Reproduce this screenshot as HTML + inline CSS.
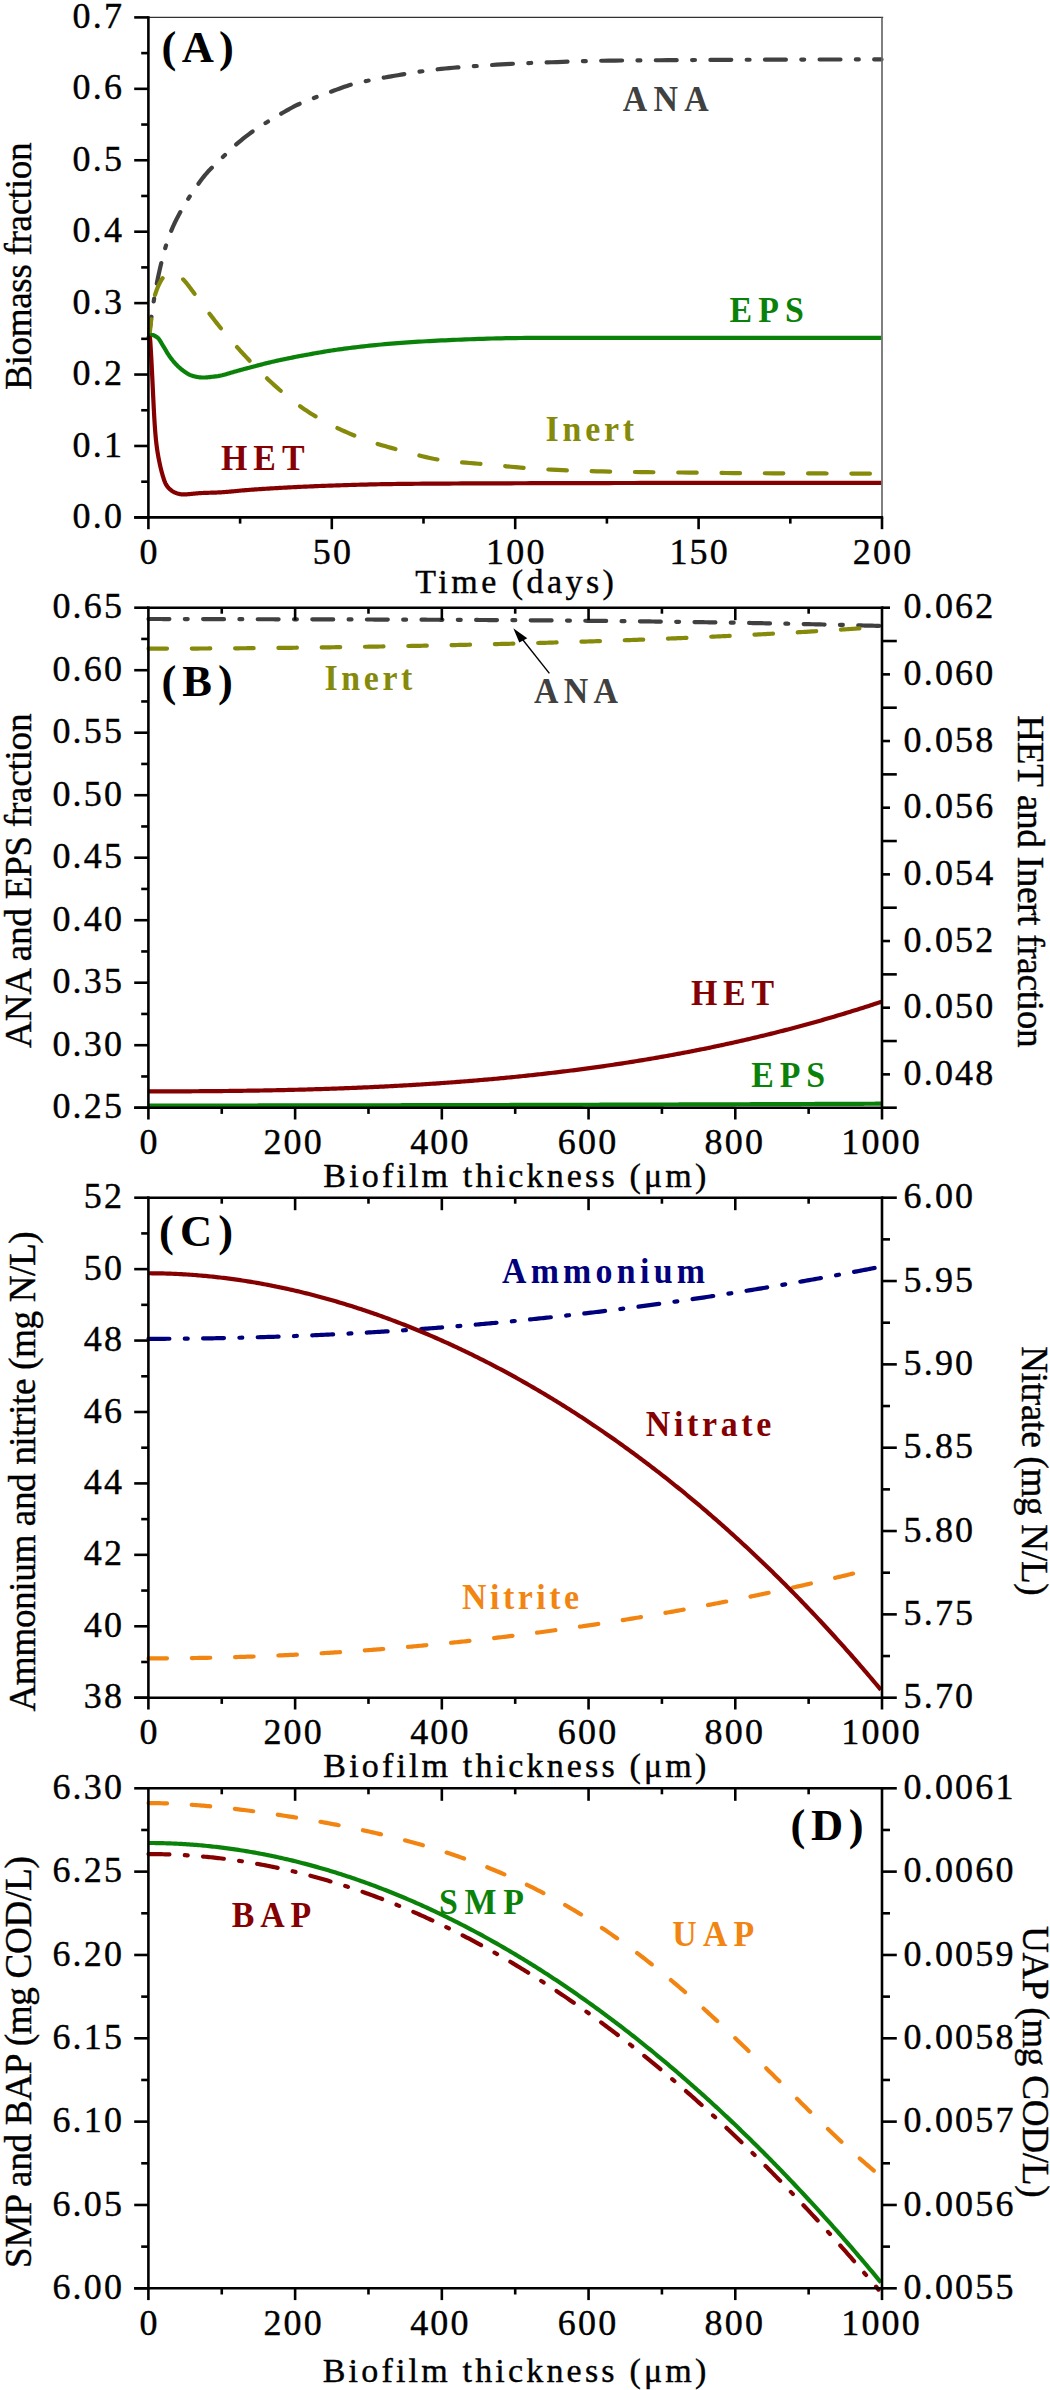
<!DOCTYPE html>
<html><head><meta charset="utf-8"><style>
html,body{margin:0;padding:0;background:#fff;overflow:hidden;}
svg{display:block;font-family:'Liberation Serif', serif;}
text{stroke-width:0.4px;}
text.n{stroke:#000;}
</style></head><body>
<svg width="1050" height="2390" viewBox="0 0 1050 2390">
<rect width="1050" height="2390" fill="#fff"/>
<g>
<path d="M148.8 337.46 L148.85 337.2 L148.9 336.88 L148.95 336.51 L149.01 336.1 L149.06 335.66 L149.11 335.21 L149.17 334.73 L149.22 334.26 L149.28 333.77 L149.34 333.28 L149.39 332.78 L149.45 332.28 L149.51 331.78 L149.57 331.27 L149.63 330.76 L149.69 330.24 L149.76 329.72 L149.82 329.2 L149.88 328.67 L149.95 328.14 L150.01 327.6 L150.08 327.06 L150.15 326.52 L150.22 325.97 L150.29 325.42 L150.36 324.87 L150.43 324.31 L150.5 323.75 L150.57 323.19 L150.65 322.63 L150.72 322.06 L150.8 321.49 L150.87 320.91 L150.95 320.33 L151.03 319.75 L151.11 319.16 L151.19 318.57 L151.28 317.97 L151.36 317.36 L151.44 316.75 L151.53 316.14 L151.62 315.51 L151.7 314.89 L151.79 314.25 L151.88 313.61 L151.97 312.97 L152.07 312.32 L152.16 311.66 L152.26 311 L152.35 310.34 L152.45 309.67 L152.55 309 L152.65 308.32 L152.75 307.63 L152.85 306.95 L152.96 306.25 L153.06 305.55 L153.17 304.85 L153.28 304.14 L153.39 303.43 L153.5 302.71 L153.61 301.99 L153.73 301.26 L153.84 300.52 L153.96 299.78 L154.08 299.04 L154.2 298.29 L154.32 297.53 L154.45 296.77 L154.57 296.01 L154.7 295.25 L154.83 294.48 L154.96 293.7 L155.09 292.93 L155.23 292.15 L155.36 291.36 L155.5 290.58 L155.64 289.79 L155.78 289 L155.92 288.2 L156.07 287.4 L156.22 286.61 L156.37 285.81 L156.52 285 L156.67 284.2 L156.83 283.39 L156.98 282.59 L157.14 281.78 L157.3 280.97 L157.47 280.16 L157.63 279.34 L157.8 278.52 L157.97 277.7 L158.14 276.88 L158.32 276.05 L158.49 275.22 L158.67 274.39 L158.85 273.55 L159.04 272.71 L159.23 271.87 L159.41 271.02 L159.61 270.17 L159.8 269.32 L160 268.46 L160.2 267.6 L160.4 266.74 L160.6 265.87 L160.81 265 L161.02 264.13 L161.23 263.26 L161.45 262.38 L161.67 261.5 L161.89 260.61 L162.11 259.72 L162.34 258.83 L162.57 257.93 L162.8 257.02 L163.04 256.11 L163.28 255.19 L163.52 254.27 L163.77 253.35 L164.02 252.42 L164.27 251.5 L164.53 250.57 L164.79 249.65 L165.05 248.73 L165.32 247.82 L165.59 246.91 L165.86 246 L166.14 245.1 L166.42 244.21 L166.7 243.32 L166.99 242.43 L167.28 241.55 L167.58 240.67 L167.88 239.79 L168.18 238.91 L168.49 238.04 L168.8 237.17 L169.12 236.3 L169.44 235.44 L169.77 234.58 L170.09 233.72 L170.43 232.86 L170.77 232 L171.11 231.15 L171.45 230.29 L171.81 229.44 L172.16 228.6 L172.52 227.75 L172.89 226.91 L173.26 226.08 L173.64 225.25 L174.02 224.42 L174.4 223.59 L174.79 222.77 L175.19 221.95 L175.59 221.13 L176 220.32 L176.41 219.5 L176.82 218.68 L177.25 217.86 L177.68 217.03 L178.11 216.2 L178.55 215.37 L179 214.53 L179.45 213.69 L179.91 212.85 L180.37 212 L180.84 211.15 L181.32 210.3 L181.8 209.44 L182.29 208.58 L182.78 207.72 L183.28 206.86 L183.79 206 L184.31 205.13 L184.83 204.26 L185.36 203.39 L185.9 202.51 L186.44 201.63 L186.99 200.75 L187.55 199.86 L188.11 198.98 L188.69 198.08 L189.27 197.18 L189.86 196.28 L190.45 195.38 L191.06 194.46 L191.67 193.55 L192.29 192.62 L192.92 191.69 L193.55 190.75 L194.2 189.81 L194.85 188.85 L195.51 187.89 L196.19 186.92 L196.87 185.94 L197.55 184.96 L198.25 183.98 L198.96 182.99 L199.68 182.01 L200.4 181.02 L201.14 180.03 L201.89 179.05 L202.64 178.07 L203.41 177.1 L204.18 176.14 L204.97 175.18 L205.77 174.24 L206.58 173.3 L207.39 172.37 L208.22 171.45 L209.06 170.54 L209.91 169.64 L210.78 168.74 L211.65 167.85 L212.54 166.95 L213.43 166.06 L214.34 165.17 L215.26 164.27 L216.2 163.37 L217.14 162.46 L218.1 161.54 L219.07 160.61 L220.06 159.67 L221.06 158.72 L222.07 157.75 L223.09 156.76 L224.13 155.76 L225.18 154.74 L226.24 153.71 L227.32 152.67 L228.42 151.62 L229.53 150.57 L230.65 149.5 L231.79 148.44 L232.94 147.37 L234.11 146.31 L235.29 145.25 L236.49 144.19 L237.71 143.14 L238.94 142.09 L240.19 141.05 L241.45 140.01 L242.74 138.97 L244.03 137.93 L245.35 136.9 L246.68 135.87 L248.04 134.84 L249.4 133.82 L250.79 132.8 L252.2 131.79 L253.62 130.78 L255.06 129.78 L256.53 128.79 L258.01 127.8 L259.51 126.82 L261.03 125.84 L262.57 124.87 L264.14 123.9 L265.72 122.92 L267.32 121.95 L268.95 120.97 L270.6 119.98 L272.27 118.98 L273.96 117.98 L275.67 116.96 L277.41 115.92 L279.17 114.88 L280.95 113.83 L282.75 112.77 L284.59 111.71 L286.44 110.64 L288.32 109.58 L290.22 108.53 L292.15 107.5 L294.11 106.48 L296.09 105.48 L298.1 104.5 L300.13 103.55 L302.19 102.63 L304.28 101.73 L306.4 100.85 L308.54 99.99 L310.72 99.15 L312.92 98.32 L315.15 97.49 L317.41 96.67 L319.7 95.84 L322.02 95 L324.38 94.15 L326.76 93.28 L329.17 92.4 L331.62 91.48 L334.1 90.55 L336.61 89.61 L339.16 88.66 L341.74 87.72 L344.35 86.81 L347 85.93 L349.69 85.09 L352.41 84.29 L355.16 83.55 L357.96 82.85 L360.79 82.18 L363.65 81.55 L366.56 80.94 L369.5 80.35 L372.49 79.76 L375.51 79.19 L378.57 78.62 L381.67 78.05 L384.82 77.49 L388.01 76.93 L391.24 76.37 L394.51 75.8 L397.82 75.23 L401.18 74.66 L404.59 74.09 L408.04 73.51 L411.53 72.94 L415.07 72.37 L418.66 71.82 L422.3 71.28 L425.98 70.75 L429.72 70.25 L433.5 69.77 L437.33 69.31 L441.22 68.88 L445.15 68.47 L449.14 68.09 L453.18 67.74 L457.28 67.41 L461.43 67.09 L465.63 66.79 L469.89 66.49 L474.21 66.19 L478.58 65.9 L483.02 65.61 L487.51 65.31 L492.06 65.02 L496.67 64.72 L501.34 64.44 L506.08 64.15 L510.88 63.88 L515.74 63.63 L520.66 63.39 L525.66 63.18 L530.71 62.98 L535.84 62.79 L541.03 62.61 L546.29 62.43 L551.63 62.25 L557.03 62.05 L562.51 61.86 L568.05 61.66 L573.67 61.46 L579.37 61.28 L585.14 61.12 L590.99 60.97 L596.92 60.84 L602.92 60.74 L609.01 60.65 L615.17 60.57 L621.42 60.51 L627.75 60.46 L634.17 60.41 L640.67 60.36 L647.25 60.31 L653.93 60.27 L660.69 60.23 L667.54 60.19 L674.48 60.15 L681.52 60.1 L688.65 60.06 L695.87 60.02 L703.19 59.98 L710.61 59.95 L718.13 59.91 L725.74 59.87 L733.46 59.83 L741.28 59.8 L749.2 59.76 L757.23 59.73 L765.36 59.69 L773.61 59.66 L781.96 59.63 L790.42 59.61 L799 59.58 L807.69 59.56 L816.5 59.53 L825.42 59.51 L834.46 59.49 L843.62 59.47 L852.9 59.45 L862.31 59.44 L871.84 59.43 L881.5 59.42" fill="none" stroke="#404040" stroke-width="4.2" stroke-linecap="round" stroke-linejoin="round" stroke-dasharray="20.9 15.4 2.9 15.4"/>
<path d="M148.8 337.73 L148.85 337.6 L148.9 337.43 L148.95 337.23 L149.01 337 L149.06 336.74 L149.11 336.47 L149.17 336.17 L149.22 335.86 L149.28 335.54 L149.34 335.2 L149.39 334.85 L149.45 334.49 L149.51 334.11 L149.57 333.72 L149.63 333.32 L149.69 332.9 L149.76 332.46 L149.82 332.01 L149.88 331.54 L149.95 331.05 L150.01 330.54 L150.08 330.02 L150.15 329.47 L150.22 328.91 L150.29 328.33 L150.36 327.73 L150.43 327.12 L150.5 326.49 L150.57 325.84 L150.65 325.17 L150.72 324.49 L150.8 323.78 L150.87 323.03 L150.95 322.26 L151.03 321.44 L151.11 320.58 L151.19 319.66 L151.28 318.7 L151.36 317.69 L151.44 316.64 L151.53 315.56 L151.62 314.47 L151.7 313.38 L151.79 312.29 L151.88 311.23 L151.97 310.21 L152.07 309.23 L152.16 308.31 L152.26 307.45 L152.35 306.65 L152.45 305.9 L152.55 305.21 L152.65 304.56 L152.75 303.95 L152.85 303.37 L152.96 302.81 L153.06 302.28 L153.17 301.77 L153.28 301.27 L153.39 300.79 L153.5 300.32 L153.61 299.87 L153.73 299.42 L153.84 298.98 L153.96 298.54 L154.08 298.11 L154.2 297.69 L154.32 297.26 L154.45 296.84 L154.57 296.41 L154.7 295.98 L154.83 295.55 L154.96 295.12 L155.09 294.69 L155.23 294.25 L155.36 293.82 L155.5 293.39 L155.64 292.96 L155.78 292.53 L155.92 292.1 L156.07 291.68 L156.22 291.26 L156.37 290.84 L156.52 290.43 L156.67 290.01 L156.83 289.6 L156.98 289.2 L157.14 288.79 L157.3 288.38 L157.47 287.98 L157.63 287.58 L157.8 287.18 L157.97 286.78 L158.14 286.39 L158.32 285.99 L158.49 285.6 L158.67 285.2 L158.85 284.81 L159.04 284.42 L159.23 284.03 L159.41 283.63 L159.61 283.24 L159.8 282.85 L160 282.47 L160.2 282.08 L160.4 281.7 L160.6 281.32 L160.81 280.95 L161.02 280.59 L161.23 280.23 L161.45 279.88 L161.67 279.53 L161.89 279.19 L162.11 278.86 L162.34 278.53 L162.57 278.21 L162.8 277.89 L163.04 277.58 L163.28 277.27 L163.52 276.97 L163.77 276.68 L164.02 276.39 L164.27 276.11 L164.53 275.84 L164.79 275.58 L165.05 275.33 L165.32 275.09 L165.59 274.86 L165.86 274.63 L166.14 274.42 L166.42 274.21 L166.7 274.01 L166.99 273.81 L167.28 273.62 L167.58 273.43 L167.88 273.26 L168.18 273.11 L168.49 272.97 L168.8 272.85 L169.12 272.75 L169.44 272.67 L169.77 272.62 L170.09 272.59 L170.43 272.58 L170.77 272.58 L171.11 272.6 L171.45 272.64 L171.81 272.68 L172.16 272.73 L172.52 272.79 L172.89 272.86 L173.26 272.93 L173.64 273.01 L174.02 273.1 L174.4 273.2 L174.79 273.32 L175.19 273.45 L175.59 273.6 L176 273.78 L176.41 273.98 L176.82 274.2 L177.25 274.44 L177.68 274.71 L178.11 274.99 L178.55 275.3 L179 275.62 L179.45 275.96 L179.91 276.32 L180.37 276.7 L180.84 277.1 L181.32 277.53 L181.8 277.98 L182.29 278.46 L182.78 278.96 L183.28 279.49 L183.79 280.03 L184.31 280.61 L184.83 281.2 L185.36 281.81 L185.9 282.44 L186.44 283.1 L186.99 283.77 L187.55 284.47 L188.11 285.19 L188.69 285.92 L189.27 286.68 L189.86 287.46 L190.45 288.25 L191.06 289.07 L191.67 289.9 L192.29 290.74 L192.92 291.6 L193.55 292.47 L194.2 293.36 L194.85 294.25 L195.51 295.16 L196.19 296.08 L196.87 297.01 L197.55 297.94 L198.25 298.88 L198.96 299.83 L199.68 300.79 L200.4 301.76 L201.14 302.73 L201.89 303.71 L202.64 304.7 L203.41 305.7 L204.18 306.71 L204.97 307.74 L205.77 308.79 L206.58 309.85 L207.39 310.92 L208.22 312.01 L209.06 313.11 L209.91 314.23 L210.78 315.36 L211.65 316.51 L212.54 317.66 L213.43 318.83 L214.34 320 L215.26 321.19 L216.2 322.38 L217.14 323.58 L218.1 324.79 L219.07 326.01 L220.06 327.23 L221.06 328.46 L222.07 329.69 L223.09 330.93 L224.13 332.18 L225.18 333.43 L226.24 334.69 L227.32 335.96 L228.42 337.23 L229.53 338.52 L230.65 339.82 L231.79 341.13 L232.94 342.45 L234.11 343.78 L235.29 345.12 L236.49 346.47 L237.71 347.83 L238.94 349.2 L240.19 350.58 L241.45 351.97 L242.74 353.36 L244.03 354.77 L245.35 356.18 L246.68 357.6 L248.04 359.04 L249.4 360.48 L250.79 361.94 L252.2 363.41 L253.62 364.89 L255.06 366.38 L256.53 367.89 L258.01 369.41 L259.51 370.93 L261.03 372.47 L262.57 374.01 L264.14 375.55 L265.72 377.1 L267.32 378.65 L268.95 380.2 L270.6 381.74 L272.27 383.29 L273.96 384.83 L275.67 386.38 L277.41 387.92 L279.17 389.46 L280.95 391.01 L282.75 392.56 L284.59 394.1 L286.44 395.65 L288.32 397.2 L290.22 398.74 L292.15 400.27 L294.11 401.8 L296.09 403.31 L298.1 404.81 L300.13 406.28 L302.19 407.74 L304.28 409.19 L306.4 410.61 L308.54 412.01 L310.72 413.4 L312.92 414.76 L315.15 416.12 L317.41 417.45 L319.7 418.78 L322.02 420.08 L324.38 421.38 L326.76 422.66 L329.17 423.92 L331.62 425.18 L334.1 426.42 L336.61 427.65 L339.16 428.87 L341.74 430.07 L344.35 431.27 L347 432.45 L349.69 433.62 L352.41 434.77 L355.16 435.91 L357.96 437.03 L360.79 438.13 L363.65 439.21 L366.56 440.26 L369.5 441.29 L372.49 442.3 L375.51 443.27 L378.57 444.23 L381.67 445.16 L384.82 446.07 L388.01 446.97 L391.24 447.86 L394.51 448.75 L397.82 449.64 L401.18 450.55 L404.59 451.47 L408.04 452.4 L411.53 453.36 L415.07 454.32 L418.66 455.28 L422.3 456.22 L425.98 457.13 L429.72 457.98 L433.5 458.77 L437.33 459.48 L441.22 460.11 L445.15 460.67 L449.14 461.16 L453.18 461.59 L457.28 461.98 L461.43 462.34 L465.63 462.68 L469.89 463.02 L474.21 463.37 L478.58 463.73 L483.02 464.11 L487.51 464.51 L492.06 464.93 L496.67 465.38 L501.34 465.83 L506.08 466.29 L510.88 466.75 L515.74 467.2 L520.66 467.63 L525.66 468.04 L530.71 468.42 L535.84 468.78 L541.03 469.1 L546.29 469.41 L551.63 469.69 L557.03 469.95 L562.51 470.19 L568.05 470.42 L573.67 470.63 L579.37 470.82 L585.14 471 L590.99 471.17 L596.92 471.32 L602.92 471.46 L609.01 471.59 L615.17 471.71 L621.42 471.82 L627.75 471.91 L634.17 472 L640.67 472.09 L647.25 472.16 L653.93 472.24 L660.69 472.31 L667.54 472.38 L674.48 472.45 L681.52 472.52 L688.65 472.59 L695.87 472.67 L703.19 472.75 L710.61 472.83 L718.13 472.91 L725.74 472.99 L733.46 473.07 L741.28 473.13 L749.2 473.19 L757.23 473.23 L765.36 473.26 L773.61 473.28 L781.96 473.3 L790.42 473.32 L799 473.35 L807.69 473.38 L816.5 473.42 L825.42 473.47 L834.46 473.52 L843.62 473.56 L852.9 473.6 L862.31 473.64 L871.84 473.66 L881.5 473.68" fill="none" stroke="#858a0a" stroke-width="4.2" stroke-linecap="round" stroke-linejoin="round" stroke-dasharray="18.5 24.8"/>
<path d="M148.8 337.86 L148.85 337.79 L148.9 337.71 L148.95 337.62 L149.01 337.51 L149.06 337.41 L149.11 337.3 L149.17 337.19 L149.22 337.08 L149.28 336.98 L149.34 336.87 L149.39 336.77 L149.45 336.68 L149.51 336.59 L149.57 336.5 L149.63 336.42 L149.69 336.34 L149.76 336.26 L149.82 336.19 L149.88 336.12 L149.95 336.06 L150.01 336 L150.08 335.94 L150.15 335.89 L150.22 335.84 L150.29 335.78 L150.36 335.73 L150.43 335.68 L150.5 335.63 L150.57 335.59 L150.65 335.54 L150.72 335.49 L150.8 335.45 L150.87 335.41 L150.95 335.36 L151.03 335.32 L151.11 335.29 L151.19 335.25 L151.28 335.22 L151.36 335.19 L151.44 335.16 L151.53 335.13 L151.62 335.1 L151.7 335.08 L151.79 335.06 L151.88 335.05 L151.97 335.04 L152.07 335.03 L152.16 335.02 L152.26 335.02 L152.35 335.02 L152.45 335.02 L152.55 335.03 L152.65 335.04 L152.75 335.06 L152.85 335.07 L152.96 335.1 L153.06 335.12 L153.17 335.15 L153.28 335.18 L153.39 335.22 L153.5 335.26 L153.61 335.3 L153.73 335.34 L153.84 335.39 L153.96 335.44 L154.08 335.5 L154.2 335.56 L154.32 335.62 L154.45 335.68 L154.57 335.74 L154.7 335.81 L154.83 335.88 L154.96 335.95 L155.09 336.03 L155.23 336.11 L155.36 336.19 L155.5 336.27 L155.64 336.36 L155.78 336.44 L155.92 336.53 L156.07 336.62 L156.22 336.71 L156.37 336.81 L156.52 336.91 L156.67 337 L156.83 337.11 L156.98 337.21 L157.14 337.32 L157.3 337.43 L157.47 337.55 L157.63 337.68 L157.8 337.81 L157.97 337.97 L158.14 338.13 L158.32 338.32 L158.49 338.52 L158.67 338.74 L158.85 338.97 L159.04 339.22 L159.23 339.48 L159.41 339.76 L159.61 340.05 L159.8 340.35 L160 340.67 L160.2 340.99 L160.4 341.33 L160.6 341.67 L160.81 342.02 L161.02 342.38 L161.23 342.74 L161.45 343.11 L161.67 343.48 L161.89 343.86 L162.11 344.24 L162.34 344.62 L162.57 345 L162.8 345.39 L163.04 345.77 L163.28 346.16 L163.52 346.55 L163.77 346.94 L164.02 347.34 L164.27 347.75 L164.53 348.17 L164.79 348.59 L165.05 349.03 L165.32 349.48 L165.59 349.94 L165.86 350.4 L166.14 350.88 L166.42 351.35 L166.7 351.84 L166.99 352.32 L167.28 352.81 L167.58 353.29 L167.88 353.78 L168.18 354.26 L168.49 354.75 L168.8 355.22 L169.12 355.7 L169.44 356.17 L169.77 356.63 L170.09 357.1 L170.43 357.56 L170.77 358.01 L171.11 358.47 L171.45 358.93 L171.81 359.38 L172.16 359.83 L172.52 360.29 L172.89 360.74 L173.26 361.19 L173.64 361.63 L174.02 362.08 L174.4 362.52 L174.79 362.96 L175.19 363.4 L175.59 363.83 L176 364.26 L176.41 364.69 L176.82 365.12 L177.25 365.54 L177.68 365.96 L178.11 366.38 L178.55 366.8 L179 367.21 L179.45 367.62 L179.91 368.03 L180.37 368.44 L180.84 368.84 L181.32 369.23 L181.8 369.62 L182.29 370.01 L182.78 370.39 L183.28 370.76 L183.79 371.13 L184.31 371.5 L184.83 371.86 L185.36 372.22 L185.9 372.58 L186.44 372.93 L186.99 373.28 L187.55 373.62 L188.11 373.94 L188.69 374.26 L189.27 374.55 L189.86 374.83 L190.45 375.09 L191.06 375.33 L191.67 375.55 L192.29 375.75 L192.92 375.94 L193.55 376.12 L194.2 376.29 L194.85 376.45 L195.51 376.6 L196.19 376.74 L196.87 376.88 L197.55 377 L198.25 377.12 L198.96 377.22 L199.68 377.31 L200.4 377.38 L201.14 377.44 L201.89 377.48 L202.64 377.51 L203.41 377.52 L204.18 377.51 L204.97 377.48 L205.77 377.44 L206.58 377.38 L207.39 377.32 L208.22 377.24 L209.06 377.15 L209.91 377.06 L210.78 376.96 L211.65 376.86 L212.54 376.76 L213.43 376.66 L214.34 376.55 L215.26 376.44 L216.2 376.33 L217.14 376.21 L218.1 376.08 L219.07 375.92 L220.06 375.75 L221.06 375.54 L222.07 375.31 L223.09 375.05 L224.13 374.77 L225.18 374.47 L226.24 374.15 L227.32 373.83 L228.42 373.49 L229.53 373.16 L230.65 372.83 L231.79 372.49 L232.94 372.16 L234.11 371.83 L235.29 371.5 L236.49 371.16 L237.71 370.83 L238.94 370.49 L240.19 370.15 L241.45 369.8 L242.74 369.46 L244.03 369.1 L245.35 368.75 L246.68 368.39 L248.04 368.03 L249.4 367.67 L250.79 367.29 L252.2 366.92 L253.62 366.54 L255.06 366.16 L256.53 365.77 L258.01 365.38 L259.51 364.99 L261.03 364.6 L262.57 364.2 L264.14 363.8 L265.72 363.4 L267.32 363.01 L268.95 362.61 L270.6 362.21 L272.27 361.82 L273.96 361.42 L275.67 361.03 L277.41 360.64 L279.17 360.25 L280.95 359.87 L282.75 359.48 L284.59 359.1 L286.44 358.71 L288.32 358.33 L290.22 357.95 L292.15 357.57 L294.11 357.18 L296.09 356.8 L298.1 356.41 L300.13 356.03 L302.19 355.64 L304.28 355.25 L306.4 354.86 L308.54 354.46 L310.72 354.07 L312.92 353.67 L315.15 353.27 L317.41 352.87 L319.7 352.48 L322.02 352.08 L324.38 351.69 L326.76 351.3 L329.17 350.91 L331.62 350.53 L334.1 350.15 L336.61 349.78 L339.16 349.42 L341.74 349.06 L344.35 348.7 L347 348.35 L349.69 348 L352.41 347.66 L355.16 347.32 L357.96 346.99 L360.79 346.66 L363.65 346.33 L366.56 346.01 L369.5 345.7 L372.49 345.39 L375.51 345.08 L378.57 344.78 L381.67 344.49 L384.82 344.2 L388.01 343.92 L391.24 343.65 L394.51 343.38 L397.82 343.12 L401.18 342.87 L404.59 342.63 L408.04 342.39 L411.53 342.15 L415.07 341.93 L418.66 341.7 L422.3 341.48 L425.98 341.27 L429.72 341.06 L433.5 340.86 L437.33 340.66 L441.22 340.47 L445.15 340.28 L449.14 340.1 L453.18 339.93 L457.28 339.75 L461.43 339.59 L465.63 339.42 L469.89 339.26 L474.21 339.1 L478.58 338.94 L483.02 338.79 L487.51 338.65 L492.06 338.51 L496.67 338.39 L501.34 338.28 L506.08 338.19 L510.88 338.11 L515.74 338.05 L520.66 338.01 L525.66 337.97 L530.71 337.94 L535.84 337.92 L541.03 337.9 L546.29 337.89 L551.63 337.88 L557.03 337.87 L562.51 337.87 L568.05 337.86 L573.67 337.85 L579.37 337.85 L585.14 337.84 L590.99 337.84 L596.92 337.83 L602.92 337.83 L609.01 337.83 L615.17 337.82 L621.42 337.82 L627.75 337.82 L634.17 337.81 L640.67 337.81 L647.25 337.81 L653.93 337.81 L660.69 337.81 L667.54 337.8 L674.48 337.8 L681.52 337.8 L688.65 337.8 L695.87 337.8 L703.19 337.8 L710.61 337.8 L718.13 337.8 L725.74 337.8 L733.46 337.8 L741.28 337.8 L749.2 337.8 L757.23 337.8 L765.36 337.8 L773.61 337.8 L781.96 337.8 L790.42 337.8 L799 337.8 L807.69 337.8 L816.5 337.8 L825.42 337.8 L834.46 337.8 L843.62 337.8 L852.9 337.8 L862.31 337.8 L871.84 337.8 L881.5 337.8" fill="none" stroke="#0a820a" stroke-width="4.2" stroke-linecap="butt" stroke-linejoin="round"/>
<path d="M148.8 337.94 L148.85 337.91 L148.9 337.88 L148.95 337.85 L149.01 337.81 L149.06 337.78 L149.11 337.75 L149.17 337.72 L149.22 337.7 L149.28 337.68 L149.34 337.66 L149.39 337.64 L149.45 337.63 L149.51 337.63 L149.57 337.63 L149.63 337.64 L149.69 337.66 L149.76 337.72 L149.82 337.82 L149.88 337.99 L149.95 338.24 L150.01 338.6 L150.08 339.07 L150.15 339.68 L150.22 340.41 L150.29 341.27 L150.36 342.23 L150.43 343.3 L150.5 344.44 L150.57 345.65 L150.65 346.9 L150.72 348.19 L150.8 349.5 L150.87 350.82 L150.95 352.17 L151.03 353.54 L151.11 354.94 L151.19 356.38 L151.28 357.85 L151.36 359.38 L151.44 360.96 L151.53 362.59 L151.62 364.26 L151.7 365.97 L151.79 367.73 L151.88 369.52 L151.97 371.34 L152.07 373.2 L152.16 375.09 L152.26 377.02 L152.35 379 L152.45 381.01 L152.55 383.07 L152.65 385.16 L152.75 387.29 L152.85 389.45 L152.96 391.63 L153.06 393.82 L153.17 396.04 L153.28 398.26 L153.39 400.5 L153.5 402.75 L153.61 405.01 L153.73 407.27 L153.84 409.52 L153.96 411.76 L154.08 413.96 L154.2 416.12 L154.32 418.24 L154.45 420.3 L154.57 422.31 L154.7 424.27 L154.83 426.18 L154.96 428.04 L155.09 429.85 L155.23 431.6 L155.36 433.3 L155.5 434.94 L155.64 436.52 L155.78 438.04 L155.92 439.49 L156.07 440.89 L156.22 442.23 L156.37 443.52 L156.52 444.76 L156.67 445.97 L156.83 447.15 L156.98 448.29 L157.14 449.4 L157.3 450.49 L157.47 451.55 L157.63 452.6 L157.8 453.62 L157.97 454.62 L158.14 455.61 L158.32 456.58 L158.49 457.54 L158.67 458.49 L158.85 459.43 L159.04 460.37 L159.23 461.3 L159.41 462.22 L159.61 463.14 L159.8 464.05 L160 464.95 L160.2 465.85 L160.4 466.74 L160.6 467.63 L160.81 468.49 L161.02 469.35 L161.23 470.2 L161.45 471.03 L161.67 471.86 L161.89 472.67 L162.11 473.48 L162.34 474.29 L162.57 475.09 L162.8 475.88 L163.04 476.67 L163.28 477.46 L163.52 478.24 L163.77 479 L164.02 479.75 L164.27 480.47 L164.53 481.17 L164.79 481.83 L165.05 482.46 L165.32 483.06 L165.59 483.62 L165.86 484.15 L166.14 484.64 L166.42 485.11 L166.7 485.56 L166.99 485.98 L167.28 486.39 L167.58 486.78 L167.88 487.16 L168.18 487.52 L168.49 487.86 L168.8 488.2 L169.12 488.52 L169.44 488.83 L169.77 489.13 L170.09 489.43 L170.43 489.71 L170.77 489.98 L171.11 490.25 L171.45 490.51 L171.81 490.77 L172.16 491.02 L172.52 491.26 L172.89 491.49 L173.26 491.71 L173.64 491.93 L174.02 492.13 L174.4 492.33 L174.79 492.51 L175.19 492.68 L175.59 492.84 L176 492.99 L176.41 493.14 L176.82 493.28 L177.25 493.41 L177.68 493.53 L178.11 493.65 L178.55 493.77 L179 493.88 L179.45 493.98 L179.91 494.08 L180.37 494.17 L180.84 494.24 L181.32 494.31 L181.8 494.36 L182.29 494.4 L182.78 494.43 L183.28 494.44 L183.79 494.45 L184.31 494.44 L184.83 494.42 L185.36 494.4 L185.9 494.37 L186.44 494.33 L186.99 494.29 L187.55 494.25 L188.11 494.2 L188.69 494.15 L189.27 494.1 L189.86 494.05 L190.45 494 L191.06 493.94 L191.67 493.88 L192.29 493.82 L192.92 493.76 L193.55 493.69 L194.2 493.63 L194.85 493.56 L195.51 493.49 L196.19 493.43 L196.87 493.36 L197.55 493.3 L198.25 493.24 L198.96 493.19 L199.68 493.14 L200.4 493.1 L201.14 493.05 L201.89 493.02 L202.64 492.98 L203.41 492.95 L204.18 492.92 L204.97 492.89 L205.77 492.87 L206.58 492.84 L207.39 492.82 L208.22 492.79 L209.06 492.77 L209.91 492.74 L210.78 492.72 L211.65 492.69 L212.54 492.67 L213.43 492.64 L214.34 492.61 L215.26 492.58 L216.2 492.54 L217.14 492.51 L218.1 492.47 L219.07 492.42 L220.06 492.37 L221.06 492.32 L222.07 492.25 L223.09 492.19 L224.13 492.11 L225.18 492.03 L226.24 491.95 L227.32 491.85 L228.42 491.76 L229.53 491.66 L230.65 491.55 L231.79 491.44 L232.94 491.33 L234.11 491.22 L235.29 491.1 L236.49 490.99 L237.71 490.87 L238.94 490.75 L240.19 490.64 L241.45 490.52 L242.74 490.41 L244.03 490.3 L245.35 490.19 L246.68 490.08 L248.04 489.97 L249.4 489.87 L250.79 489.77 L252.2 489.66 L253.62 489.56 L255.06 489.46 L256.53 489.36 L258.01 489.26 L259.51 489.15 L261.03 489.05 L262.57 488.95 L264.14 488.85 L265.72 488.75 L267.32 488.64 L268.95 488.54 L270.6 488.44 L272.27 488.34 L273.96 488.24 L275.67 488.14 L277.41 488.04 L279.17 487.94 L280.95 487.84 L282.75 487.74 L284.59 487.64 L286.44 487.54 L288.32 487.44 L290.22 487.35 L292.15 487.25 L294.11 487.15 L296.09 487.06 L298.1 486.96 L300.13 486.87 L302.19 486.77 L304.28 486.67 L306.4 486.58 L308.54 486.48 L310.72 486.39 L312.92 486.29 L315.15 486.2 L317.41 486.11 L319.7 486.02 L322.02 485.92 L324.38 485.83 L326.76 485.74 L329.17 485.66 L331.62 485.57 L334.1 485.49 L336.61 485.4 L339.16 485.32 L341.74 485.24 L344.35 485.16 L347 485.08 L349.69 485 L352.41 484.92 L355.16 484.84 L357.96 484.76 L360.79 484.68 L363.65 484.61 L366.56 484.53 L369.5 484.46 L372.49 484.39 L375.51 484.32 L378.57 484.26 L381.67 484.19 L384.82 484.14 L388.01 484.08 L391.24 484.03 L394.51 483.98 L397.82 483.94 L401.18 483.9 L404.59 483.86 L408.04 483.83 L411.53 483.8 L415.07 483.77 L418.66 483.74 L422.3 483.71 L425.98 483.68 L429.72 483.65 L433.5 483.63 L437.33 483.6 L441.22 483.58 L445.15 483.56 L449.14 483.53 L453.18 483.51 L457.28 483.49 L461.43 483.47 L465.63 483.45 L469.89 483.43 L474.21 483.41 L478.58 483.39 L483.02 483.38 L487.51 483.36 L492.06 483.34 L496.67 483.32 L501.34 483.31 L506.08 483.29 L510.88 483.28 L515.74 483.26 L520.66 483.25 L525.66 483.23 L530.71 483.22 L535.84 483.2 L541.03 483.19 L546.29 483.17 L551.63 483.16 L557.03 483.14 L562.51 483.13 L568.05 483.12 L573.67 483.1 L579.37 483.09 L585.14 483.08 L590.99 483.06 L596.92 483.05 L602.92 483.04 L609.01 483.03 L615.17 483.02 L621.42 483 L627.75 482.99 L634.17 482.98 L640.67 482.97 L647.25 482.96 L653.93 482.95 L660.69 482.94 L667.54 482.94 L674.48 482.93 L681.52 482.92 L688.65 482.91 L695.87 482.91 L703.19 482.9 L710.61 482.89 L718.13 482.89 L725.74 482.88 L733.46 482.87 L741.28 482.87 L749.2 482.86 L757.23 482.86 L765.36 482.85 L773.61 482.84 L781.96 482.84 L790.42 482.83 L799 482.83 L807.69 482.83 L816.5 482.82 L825.42 482.82 L834.46 482.81 L843.62 482.81 L852.9 482.81 L862.31 482.81 L871.84 482.8 L881.5 482.8" fill="none" stroke="#850000" stroke-width="4.2" stroke-linecap="butt" stroke-linejoin="round"/>
</g>
<line x1="147.2" y1="17.4" x2="883.2" y2="17.4" stroke="#333" stroke-width="1.3"/>
<line x1="882" y1="17.4" x2="882" y2="517.4" stroke="#6a6a6a" stroke-width="1.7"/>
<line x1="148.4" y1="16.2" x2="148.4" y2="518.6" stroke="#000" stroke-width="2.6"/>
<line x1="134.2" y1="517.4" x2="148.4" y2="517.4" stroke="#000" stroke-width="2.6"/>
<line x1="141.2" y1="481.69" x2="148.4" y2="481.69" stroke="#000" stroke-width="2.6"/>
<line x1="134.2" y1="445.97" x2="148.4" y2="445.97" stroke="#000" stroke-width="2.6"/>
<line x1="141.2" y1="410.26" x2="148.4" y2="410.26" stroke="#000" stroke-width="2.6"/>
<line x1="134.2" y1="374.54" x2="148.4" y2="374.54" stroke="#000" stroke-width="2.6"/>
<line x1="141.2" y1="338.83" x2="148.4" y2="338.83" stroke="#000" stroke-width="2.6"/>
<line x1="134.2" y1="303.11" x2="148.4" y2="303.11" stroke="#000" stroke-width="2.6"/>
<line x1="141.2" y1="267.4" x2="148.4" y2="267.4" stroke="#000" stroke-width="2.6"/>
<line x1="134.2" y1="231.69" x2="148.4" y2="231.69" stroke="#000" stroke-width="2.6"/>
<line x1="141.2" y1="195.97" x2="148.4" y2="195.97" stroke="#000" stroke-width="2.6"/>
<line x1="134.2" y1="160.26" x2="148.4" y2="160.26" stroke="#000" stroke-width="2.6"/>
<line x1="141.2" y1="124.54" x2="148.4" y2="124.54" stroke="#000" stroke-width="2.6"/>
<line x1="134.2" y1="88.83" x2="148.4" y2="88.83" stroke="#000" stroke-width="2.6"/>
<line x1="141.2" y1="53.11" x2="148.4" y2="53.11" stroke="#000" stroke-width="2.6"/>
<line x1="134.2" y1="17.4" x2="148.4" y2="17.4" stroke="#000" stroke-width="2.6"/>
<text class="n" x="124.2" y="528" font-size="36" text-anchor="end" fill="#000" letter-spacing="2.2">0.0</text>
<text class="n" x="124.2" y="456.57" font-size="36" text-anchor="end" fill="#000" letter-spacing="2.2">0.1</text>
<text class="n" x="124.2" y="385.14" font-size="36" text-anchor="end" fill="#000" letter-spacing="2.2">0.2</text>
<text class="n" x="124.2" y="313.71" font-size="36" text-anchor="end" fill="#000" letter-spacing="2.2">0.3</text>
<text class="n" x="124.2" y="242.29" font-size="36" text-anchor="end" fill="#000" letter-spacing="2.2">0.4</text>
<text class="n" x="124.2" y="170.86" font-size="36" text-anchor="end" fill="#000" letter-spacing="2.2">0.5</text>
<text class="n" x="124.2" y="99.43" font-size="36" text-anchor="end" fill="#000" letter-spacing="2.2">0.6</text>
<text class="n" x="124.2" y="28" font-size="36" text-anchor="end" fill="#000" letter-spacing="2.2">0.7</text>
<line x1="134.2" y1="517.4" x2="883.2" y2="517.4" stroke="#000" stroke-width="2.6"/>
<line x1="148.4" y1="517.4" x2="148.4" y2="529.2" stroke="#000" stroke-width="2.6"/>
<line x1="240.1" y1="517.4" x2="240.1" y2="523.6" stroke="#000" stroke-width="2.6"/>
<line x1="331.8" y1="517.4" x2="331.8" y2="529.2" stroke="#000" stroke-width="2.6"/>
<line x1="423.5" y1="517.4" x2="423.5" y2="523.6" stroke="#000" stroke-width="2.6"/>
<line x1="515.2" y1="517.4" x2="515.2" y2="529.2" stroke="#000" stroke-width="2.6"/>
<line x1="606.9" y1="517.4" x2="606.9" y2="523.6" stroke="#000" stroke-width="2.6"/>
<line x1="698.6" y1="517.4" x2="698.6" y2="529.2" stroke="#000" stroke-width="2.6"/>
<line x1="790.3" y1="517.4" x2="790.3" y2="523.6" stroke="#000" stroke-width="2.6"/>
<line x1="882" y1="517.4" x2="882" y2="529.2" stroke="#000" stroke-width="2.6"/>
<text class="n" x="149.5" y="564" font-size="36" text-anchor="middle" fill="#000" letter-spacing="2.2">0</text>
<text class="n" x="332.9" y="564" font-size="36" text-anchor="middle" fill="#000" letter-spacing="2.2">50</text>
<text class="n" x="516.3" y="564" font-size="36" text-anchor="middle" fill="#000" letter-spacing="2.2">100</text>
<text class="n" x="699.7" y="564" font-size="36" text-anchor="middle" fill="#000" letter-spacing="2.2">150</text>
<text class="n" x="883.1" y="564" font-size="36" text-anchor="middle" fill="#000" letter-spacing="2.2">200</text>
<path d="M148.5 618.99 L150.34 618.99 L152.17 619 L154.01 619 L155.85 619.01 L157.69 619.01 L159.52 619.02 L161.36 619.02 L163.2 619.03 L165.03 619.03 L166.87 619.04 L168.71 619.04 L170.55 619.05 L172.38 619.05 L174.22 619.05 L176.06 619.06 L177.89 619.06 L179.73 619.07 L181.57 619.07 L183.4 619.08 L185.24 619.08 L187.08 619.08 L188.92 619.09 L190.75 619.09 L192.59 619.1 L194.43 619.1 L196.26 619.11 L198.1 619.11 L199.94 619.11 L201.78 619.12 L203.61 619.12 L205.45 619.13 L207.29 619.13 L209.12 619.13 L210.96 619.14 L212.8 619.14 L214.64 619.15 L216.47 619.15 L218.31 619.15 L220.15 619.16 L221.98 619.16 L223.82 619.17 L225.66 619.17 L227.49 619.17 L229.33 619.18 L231.17 619.18 L233.01 619.19 L234.84 619.19 L236.68 619.19 L238.52 619.2 L240.35 619.2 L242.19 619.2 L244.03 619.21 L245.87 619.21 L247.7 619.22 L249.54 619.22 L251.38 619.22 L253.21 619.23 L255.05 619.23 L256.89 619.24 L258.73 619.24 L260.56 619.24 L262.4 619.25 L264.24 619.25 L266.07 619.26 L267.91 619.26 L269.75 619.26 L271.59 619.27 L273.42 619.27 L275.26 619.28 L277.1 619.28 L278.93 619.28 L280.77 619.29 L282.61 619.29 L284.44 619.3 L286.28 619.3 L288.12 619.3 L289.96 619.31 L291.79 619.31 L293.63 619.32 L295.47 619.32 L297.3 619.32 L299.14 619.33 L300.98 619.33 L302.82 619.34 L304.65 619.34 L306.49 619.35 L308.33 619.35 L310.16 619.35 L312 619.36 L313.84 619.36 L315.68 619.37 L317.51 619.37 L319.35 619.38 L321.19 619.38 L323.02 619.39 L324.86 619.39 L326.7 619.39 L328.54 619.4 L330.37 619.4 L332.21 619.41 L334.05 619.41 L335.88 619.42 L337.72 619.42 L339.56 619.43 L341.39 619.43 L343.23 619.44 L345.07 619.44 L346.91 619.45 L348.74 619.45 L350.58 619.46 L352.42 619.46 L354.25 619.47 L356.09 619.47 L357.93 619.48 L359.77 619.49 L361.6 619.49 L363.44 619.5 L365.28 619.5 L367.11 619.51 L368.95 619.51 L370.79 619.52 L372.63 619.52 L374.46 619.53 L376.3 619.54 L378.14 619.54 L379.97 619.55 L381.81 619.55 L383.65 619.56 L385.48 619.57 L387.32 619.57 L389.16 619.58 L391 619.58 L392.83 619.59 L394.67 619.6 L396.51 619.6 L398.34 619.61 L400.18 619.62 L402.02 619.62 L403.86 619.63 L405.69 619.64 L407.53 619.64 L409.37 619.65 L411.2 619.66 L413.04 619.67 L414.88 619.67 L416.72 619.68 L418.55 619.69 L420.39 619.7 L422.23 619.7 L424.06 619.71 L425.9 619.72 L427.74 619.73 L429.58 619.73 L431.41 619.74 L433.25 619.75 L435.09 619.76 L436.92 619.77 L438.76 619.77 L440.6 619.78 L442.43 619.79 L444.27 619.8 L446.11 619.81 L447.95 619.82 L449.78 619.82 L451.62 619.83 L453.46 619.84 L455.29 619.85 L457.13 619.86 L458.97 619.87 L460.81 619.88 L462.64 619.89 L464.48 619.9 L466.32 619.91 L468.15 619.92 L469.99 619.93 L471.83 619.94 L473.67 619.95 L475.5 619.96 L477.34 619.97 L479.18 619.98 L481.01 619.99 L482.85 620 L484.69 620.01 L486.53 620.02 L488.36 620.03 L490.2 620.04 L492.04 620.05 L493.87 620.06 L495.71 620.07 L497.55 620.08 L499.38 620.1 L501.22 620.11 L503.06 620.12 L504.9 620.13 L506.73 620.14 L508.57 620.15 L510.41 620.17 L512.24 620.18 L514.08 620.19 L515.92 620.2 L517.76 620.22 L519.59 620.23 L521.43 620.24 L523.27 620.25 L525.1 620.27 L526.94 620.28 L528.78 620.29 L530.62 620.31 L532.45 620.32 L534.29 620.33 L536.13 620.35 L537.96 620.36 L539.8 620.37 L541.64 620.39 L543.47 620.4 L545.31 620.42 L547.15 620.43 L548.99 620.45 L550.82 620.46 L552.66 620.47 L554.5 620.49 L556.33 620.5 L558.17 620.52 L560.01 620.54 L561.85 620.55 L563.68 620.57 L565.52 620.58 L567.36 620.6 L569.19 620.61 L571.03 620.63 L572.87 620.65 L574.71 620.66 L576.54 620.68 L578.38 620.7 L580.22 620.71 L582.05 620.73 L583.89 620.75 L585.73 620.76 L587.57 620.78 L589.4 620.8 L591.24 620.82 L593.08 620.83 L594.91 620.85 L596.75 620.87 L598.59 620.89 L600.42 620.91 L602.26 620.93 L604.1 620.94 L605.94 620.96 L607.77 620.98 L609.61 621 L611.45 621.02 L613.28 621.04 L615.12 621.06 L616.96 621.08 L618.8 621.1 L620.63 621.12 L622.47 621.14 L624.31 621.16 L626.14 621.18 L627.98 621.2 L629.82 621.22 L631.66 621.24 L633.49 621.27 L635.33 621.29 L637.17 621.31 L639 621.33 L640.84 621.35 L642.68 621.38 L644.52 621.4 L646.35 621.42 L648.19 621.44 L650.03 621.47 L651.86 621.49 L653.7 621.51 L655.54 621.53 L657.37 621.56 L659.21 621.58 L661.05 621.61 L662.89 621.63 L664.72 621.65 L666.56 621.68 L668.4 621.7 L670.23 621.73 L672.07 621.75 L673.91 621.78 L675.75 621.8 L677.58 621.83 L679.42 621.85 L681.26 621.88 L683.09 621.91 L684.93 621.93 L686.77 621.96 L688.61 621.99 L690.44 622.01 L692.28 622.04 L694.12 622.07 L695.95 622.09 L697.79 622.12 L699.63 622.15 L701.46 622.18 L703.3 622.2 L705.14 622.23 L706.98 622.26 L708.81 622.29 L710.65 622.32 L712.49 622.35 L714.32 622.38 L716.16 622.41 L718 622.44 L719.84 622.47 L721.67 622.5 L723.51 622.53 L725.35 622.56 L727.18 622.59 L729.02 622.62 L730.86 622.65 L732.7 622.68 L734.53 622.71 L736.37 622.74 L738.21 622.78 L740.04 622.81 L741.88 622.84 L743.72 622.87 L745.56 622.91 L747.39 622.94 L749.23 622.97 L751.07 623.01 L752.9 623.04 L754.74 623.07 L756.58 623.11 L758.41 623.14 L760.25 623.18 L762.09 623.21 L763.93 623.25 L765.76 623.28 L767.6 623.32 L769.44 623.35 L771.27 623.39 L773.11 623.42 L774.95 623.46 L776.79 623.5 L778.62 623.53 L780.46 623.57 L782.3 623.61 L784.13 623.64 L785.97 623.68 L787.81 623.72 L789.65 623.76 L791.48 623.8 L793.32 623.84 L795.16 623.87 L796.99 623.91 L798.83 623.95 L800.67 623.99 L802.51 624.03 L804.34 624.07 L806.18 624.11 L808.02 624.15 L809.85 624.19 L811.69 624.23 L813.53 624.27 L815.36 624.32 L817.2 624.36 L819.04 624.4 L820.88 624.44 L822.71 624.48 L824.55 624.53 L826.39 624.57 L828.22 624.61 L830.06 624.66 L831.9 624.7 L833.74 624.74 L835.57 624.79 L837.41 624.83 L839.25 624.88 L841.08 624.92 L842.92 624.97 L844.76 625.01 L846.6 625.06 L848.43 625.1 L850.27 625.15 L852.11 625.2 L853.94 625.24 L855.78 625.29 L857.62 625.34 L859.45 625.38 L861.29 625.43 L863.13 625.48 L864.97 625.53 L866.8 625.58 L868.64 625.63 L870.48 625.67 L872.31 625.72 L874.15 625.77 L875.99 625.82 L877.83 625.87 L879.66 625.92 L881.5 625.97" fill="none" stroke="#404040" stroke-width="4.2" stroke-linecap="round" stroke-linejoin="round" stroke-dasharray="20.9 15.4 2.9 15.4"/>
<path d="M148.5 648.64 L150.34 648.64 L152.17 648.64 L154.01 648.64 L155.85 648.63 L157.69 648.63 L159.52 648.63 L161.36 648.63 L163.2 648.63 L165.03 648.62 L166.87 648.62 L168.71 648.62 L170.55 648.61 L172.38 648.61 L174.22 648.61 L176.06 648.6 L177.89 648.6 L179.73 648.59 L181.57 648.59 L183.4 648.58 L185.24 648.58 L187.08 648.57 L188.92 648.56 L190.75 648.56 L192.59 648.55 L194.43 648.54 L196.26 648.53 L198.1 648.53 L199.94 648.52 L201.78 648.51 L203.61 648.5 L205.45 648.49 L207.29 648.48 L209.12 648.47 L210.96 648.46 L212.8 648.45 L214.64 648.44 L216.47 648.43 L218.31 648.42 L220.15 648.41 L221.98 648.4 L223.82 648.39 L225.66 648.37 L227.49 648.36 L229.33 648.35 L231.17 648.34 L233.01 648.32 L234.84 648.31 L236.68 648.3 L238.52 648.28 L240.35 648.27 L242.19 648.26 L244.03 648.24 L245.87 648.23 L247.7 648.21 L249.54 648.2 L251.38 648.18 L253.21 648.16 L255.05 648.15 L256.89 648.13 L258.73 648.12 L260.56 648.1 L262.4 648.08 L264.24 648.06 L266.07 648.05 L267.91 648.03 L269.75 648.01 L271.59 647.99 L273.42 647.97 L275.26 647.96 L277.1 647.94 L278.93 647.92 L280.77 647.9 L282.61 647.88 L284.44 647.86 L286.28 647.84 L288.12 647.82 L289.96 647.8 L291.79 647.78 L293.63 647.76 L295.47 647.74 L297.3 647.71 L299.14 647.69 L300.98 647.67 L302.82 647.65 L304.65 647.63 L306.49 647.6 L308.33 647.58 L310.16 647.56 L312 647.53 L313.84 647.51 L315.68 647.49 L317.51 647.46 L319.35 647.44 L321.19 647.41 L323.02 647.39 L324.86 647.37 L326.7 647.34 L328.54 647.31 L330.37 647.29 L332.21 647.26 L334.05 647.24 L335.88 647.21 L337.72 647.19 L339.56 647.16 L341.39 647.13 L343.23 647.1 L345.07 647.08 L346.91 647.05 L348.74 647.02 L350.58 646.99 L352.42 646.97 L354.25 646.94 L356.09 646.91 L357.93 646.88 L359.77 646.85 L361.6 646.82 L363.44 646.79 L365.28 646.76 L367.11 646.73 L368.95 646.7 L370.79 646.67 L372.63 646.64 L374.46 646.61 L376.3 646.58 L378.14 646.55 L379.97 646.52 L381.81 646.49 L383.65 646.46 L385.48 646.42 L387.32 646.39 L389.16 646.36 L391 646.33 L392.83 646.29 L394.67 646.26 L396.51 646.23 L398.34 646.19 L400.18 646.16 L402.02 646.13 L403.86 646.09 L405.69 646.06 L407.53 646.02 L409.37 645.99 L411.2 645.95 L413.04 645.92 L414.88 645.88 L416.72 645.85 L418.55 645.81 L420.39 645.78 L422.23 645.74 L424.06 645.7 L425.9 645.67 L427.74 645.63 L429.58 645.59 L431.41 645.55 L433.25 645.52 L435.09 645.48 L436.92 645.44 L438.76 645.4 L440.6 645.36 L442.43 645.33 L444.27 645.29 L446.11 645.25 L447.95 645.21 L449.78 645.17 L451.62 645.13 L453.46 645.09 L455.29 645.05 L457.13 645.01 L458.97 644.97 L460.81 644.93 L462.64 644.88 L464.48 644.84 L466.32 644.8 L468.15 644.76 L469.99 644.72 L471.83 644.67 L473.67 644.63 L475.5 644.59 L477.34 644.55 L479.18 644.5 L481.01 644.46 L482.85 644.42 L484.69 644.37 L486.53 644.33 L488.36 644.28 L490.2 644.24 L492.04 644.19 L493.87 644.15 L495.71 644.1 L497.55 644.06 L499.38 644.01 L501.22 643.96 L503.06 643.92 L504.9 643.87 L506.73 643.82 L508.57 643.78 L510.41 643.73 L512.24 643.68 L514.08 643.63 L515.92 643.59 L517.76 643.54 L519.59 643.49 L521.43 643.44 L523.27 643.39 L525.1 643.34 L526.94 643.29 L528.78 643.24 L530.62 643.19 L532.45 643.14 L534.29 643.09 L536.13 643.04 L537.96 642.99 L539.8 642.94 L541.64 642.88 L543.47 642.83 L545.31 642.78 L547.15 642.73 L548.99 642.67 L550.82 642.62 L552.66 642.57 L554.5 642.51 L556.33 642.46 L558.17 642.41 L560.01 642.35 L561.85 642.3 L563.68 642.24 L565.52 642.19 L567.36 642.13 L569.19 642.07 L571.03 642.02 L572.87 641.96 L574.71 641.9 L576.54 641.85 L578.38 641.79 L580.22 641.73 L582.05 641.67 L583.89 641.62 L585.73 641.56 L587.57 641.5 L589.4 641.44 L591.24 641.38 L593.08 641.32 L594.91 641.26 L596.75 641.2 L598.59 641.14 L600.42 641.08 L602.26 641.02 L604.1 640.95 L605.94 640.89 L607.77 640.83 L609.61 640.77 L611.45 640.7 L613.28 640.64 L615.12 640.58 L616.96 640.51 L618.8 640.45 L620.63 640.38 L622.47 640.32 L624.31 640.25 L626.14 640.19 L627.98 640.12 L629.82 640.06 L631.66 639.99 L633.49 639.92 L635.33 639.86 L637.17 639.79 L639 639.72 L640.84 639.65 L642.68 639.58 L644.52 639.51 L646.35 639.44 L648.19 639.37 L650.03 639.3 L651.86 639.23 L653.7 639.16 L655.54 639.09 L657.37 639.02 L659.21 638.95 L661.05 638.88 L662.89 638.8 L664.72 638.73 L666.56 638.66 L668.4 638.58 L670.23 638.51 L672.07 638.43 L673.91 638.36 L675.75 638.28 L677.58 638.21 L679.42 638.13 L681.26 638.05 L683.09 637.98 L684.93 637.9 L686.77 637.82 L688.61 637.74 L690.44 637.67 L692.28 637.59 L694.12 637.51 L695.95 637.43 L697.79 637.35 L699.63 637.27 L701.46 637.18 L703.3 637.1 L705.14 637.02 L706.98 636.94 L708.81 636.86 L710.65 636.77 L712.49 636.69 L714.32 636.61 L716.16 636.52 L718 636.44 L719.84 636.35 L721.67 636.26 L723.51 636.18 L725.35 636.09 L727.18 636 L729.02 635.92 L730.86 635.83 L732.7 635.74 L734.53 635.65 L736.37 635.56 L738.21 635.47 L740.04 635.38 L741.88 635.29 L743.72 635.2 L745.56 635.11 L747.39 635.01 L749.23 634.92 L751.07 634.83 L752.9 634.73 L754.74 634.64 L756.58 634.54 L758.41 634.45 L760.25 634.35 L762.09 634.26 L763.93 634.16 L765.76 634.06 L767.6 633.96 L769.44 633.87 L771.27 633.77 L773.11 633.67 L774.95 633.57 L776.79 633.47 L778.62 633.37 L780.46 633.26 L782.3 633.16 L784.13 633.06 L785.97 632.96 L787.81 632.85 L789.65 632.75 L791.48 632.64 L793.32 632.54 L795.16 632.43 L796.99 632.33 L798.83 632.22 L800.67 632.11 L802.51 632 L804.34 631.89 L806.18 631.78 L808.02 631.67 L809.85 631.56 L811.69 631.45 L813.53 631.34 L815.36 631.23 L817.2 631.12 L819.04 631 L820.88 630.89 L822.71 630.77 L824.55 630.66 L826.39 630.54 L828.22 630.43 L830.06 630.31 L831.9 630.19 L833.74 630.07 L835.57 629.95 L837.41 629.83 L839.25 629.71 L841.08 629.59 L842.92 629.47 L844.76 629.35 L846.6 629.23 L848.43 629.1 L850.27 628.98 L852.11 628.85 L853.94 628.73 L855.78 628.6 L857.62 628.47 L859.45 628.35 L861.29 628.22 L863.13 628.09 L864.97 627.96 L866.8 627.83 L868.64 627.7 L870.48 627.57 L872.31 627.44 L874.15 627.3 L875.99 627.17 L877.83 627.03 L879.66 626.9 L881.5 626.76" fill="none" stroke="#858a0a" stroke-width="4.2" stroke-linecap="round" stroke-linejoin="round" stroke-dasharray="18.5 24.8"/>
<path d="M148.5 1091.38 L150.34 1091.38 L152.18 1091.38 L154.01 1091.38 L155.85 1091.38 L157.69 1091.38 L159.53 1091.37 L161.36 1091.37 L163.2 1091.37 L165.04 1091.37 L166.88 1091.36 L168.71 1091.36 L170.55 1091.35 L172.39 1091.35 L174.23 1091.34 L176.06 1091.34 L177.9 1091.33 L179.74 1091.33 L181.58 1091.32 L183.41 1091.31 L185.25 1091.3 L187.09 1091.29 L188.93 1091.29 L190.76 1091.28 L192.6 1091.27 L194.44 1091.26 L196.28 1091.25 L198.12 1091.23 L199.95 1091.22 L201.79 1091.21 L203.63 1091.2 L205.47 1091.18 L207.3 1091.17 L209.14 1091.16 L210.98 1091.14 L212.82 1091.12 L214.65 1091.11 L216.49 1091.09 L218.33 1091.07 L220.17 1091.06 L222 1091.04 L223.84 1091.02 L225.68 1091 L227.52 1090.98 L229.35 1090.96 L231.19 1090.94 L233.03 1090.92 L234.87 1090.89 L236.7 1090.87 L238.54 1090.85 L240.38 1090.82 L242.22 1090.8 L244.05 1090.77 L245.89 1090.75 L247.73 1090.72 L249.57 1090.69 L251.41 1090.66 L253.24 1090.64 L255.08 1090.61 L256.92 1090.58 L258.76 1090.54 L260.59 1090.51 L262.43 1090.48 L264.27 1090.45 L266.11 1090.41 L267.94 1090.38 L269.78 1090.34 L271.62 1090.31 L273.46 1090.27 L275.29 1090.24 L277.13 1090.2 L278.97 1090.16 L280.81 1090.12 L282.64 1090.08 L284.48 1090.04 L286.32 1090 L288.16 1089.95 L289.99 1089.91 L291.83 1089.87 L293.67 1089.82 L295.51 1089.77 L297.35 1089.73 L299.18 1089.68 L301.02 1089.63 L302.86 1089.58 L304.7 1089.53 L306.53 1089.48 L308.37 1089.43 L310.21 1089.38 L312.05 1089.33 L313.88 1089.27 L315.72 1089.22 L317.56 1089.16 L319.4 1089.11 L321.23 1089.05 L323.07 1088.99 L324.91 1088.93 L326.75 1088.87 L328.58 1088.81 L330.42 1088.75 L332.26 1088.68 L334.1 1088.62 L335.93 1088.56 L337.77 1088.49 L339.61 1088.42 L341.45 1088.36 L343.28 1088.29 L345.12 1088.22 L346.96 1088.15 L348.8 1088.08 L350.64 1088 L352.47 1087.93 L354.31 1087.86 L356.15 1087.78 L357.99 1087.71 L359.82 1087.63 L361.66 1087.55 L363.5 1087.47 L365.34 1087.39 L367.17 1087.31 L369.01 1087.23 L370.85 1087.14 L372.69 1087.06 L374.52 1086.97 L376.36 1086.89 L378.2 1086.8 L380.04 1086.71 L381.87 1086.62 L383.71 1086.53 L385.55 1086.44 L387.39 1086.35 L389.22 1086.25 L391.06 1086.16 L392.9 1086.06 L394.74 1085.96 L396.58 1085.86 L398.41 1085.77 L400.25 1085.66 L402.09 1085.56 L403.93 1085.46 L405.76 1085.36 L407.6 1085.25 L409.44 1085.14 L411.28 1085.04 L413.11 1084.93 L414.95 1084.82 L416.79 1084.71 L418.63 1084.59 L420.46 1084.48 L422.3 1084.37 L424.14 1084.25 L425.98 1084.13 L427.81 1084.01 L429.65 1083.89 L431.49 1083.77 L433.33 1083.65 L435.16 1083.53 L437 1083.4 L438.84 1083.28 L440.68 1083.15 L442.52 1083.02 L444.35 1082.89 L446.19 1082.76 L448.03 1082.63 L449.87 1082.5 L451.7 1082.36 L453.54 1082.23 L455.38 1082.09 L457.22 1081.95 L459.05 1081.81 L460.89 1081.67 L462.73 1081.53 L464.57 1081.38 L466.4 1081.24 L468.24 1081.09 L470.08 1080.94 L471.92 1080.79 L473.75 1080.64 L475.59 1080.49 L477.43 1080.34 L479.27 1080.18 L481.1 1080.02 L482.94 1079.87 L484.78 1079.71 L486.62 1079.55 L488.45 1079.39 L490.29 1079.22 L492.13 1079.06 L493.97 1078.89 L495.81 1078.72 L497.64 1078.55 L499.48 1078.38 L501.32 1078.21 L503.16 1078.04 L504.99 1077.86 L506.83 1077.69 L508.67 1077.51 L510.51 1077.33 L512.34 1077.15 L514.18 1076.97 L516.02 1076.78 L517.86 1076.6 L519.69 1076.41 L521.53 1076.22 L523.37 1076.03 L525.21 1075.84 L527.04 1075.65 L528.88 1075.45 L530.72 1075.25 L532.56 1075.06 L534.39 1074.86 L536.23 1074.66 L538.07 1074.45 L539.91 1074.25 L541.75 1074.04 L543.58 1073.84 L545.42 1073.63 L547.26 1073.42 L549.1 1073.2 L550.93 1072.99 L552.77 1072.78 L554.61 1072.56 L556.45 1072.34 L558.28 1072.12 L560.12 1071.9 L561.96 1071.67 L563.8 1071.45 L565.63 1071.22 L567.47 1070.99 L569.31 1070.76 L571.15 1070.53 L572.98 1070.3 L574.82 1070.06 L576.66 1069.82 L578.5 1069.58 L580.33 1069.34 L582.17 1069.1 L584.01 1068.86 L585.85 1068.61 L587.68 1068.36 L589.52 1068.11 L591.36 1067.86 L593.2 1067.61 L595.04 1067.35 L596.87 1067.1 L598.71 1066.84 L600.55 1066.58 L602.39 1066.32 L604.22 1066.05 L606.06 1065.79 L607.9 1065.52 L609.74 1065.25 L611.57 1064.98 L613.41 1064.71 L615.25 1064.43 L617.09 1064.15 L618.92 1063.88 L620.76 1063.6 L622.6 1063.31 L624.44 1063.03 L626.27 1062.74 L628.11 1062.46 L629.95 1062.17 L631.79 1061.87 L633.62 1061.58 L635.46 1061.29 L637.3 1060.99 L639.14 1060.69 L640.98 1060.39 L642.81 1060.08 L644.65 1059.78 L646.49 1059.47 L648.33 1059.16 L650.16 1058.85 L652 1058.54 L653.84 1058.22 L655.68 1057.91 L657.51 1057.59 L659.35 1057.27 L661.19 1056.94 L663.03 1056.62 L664.86 1056.29 L666.7 1055.96 L668.54 1055.63 L670.38 1055.3 L672.21 1054.96 L674.05 1054.62 L675.89 1054.28 L677.73 1053.94 L679.56 1053.6 L681.4 1053.25 L683.24 1052.91 L685.08 1052.56 L686.92 1052.2 L688.75 1051.85 L690.59 1051.49 L692.43 1051.14 L694.27 1050.78 L696.1 1050.41 L697.94 1050.05 L699.78 1049.68 L701.62 1049.31 L703.45 1048.94 L705.29 1048.57 L707.13 1048.19 L708.97 1047.82 L710.8 1047.44 L712.64 1047.05 L714.48 1046.67 L716.32 1046.28 L718.15 1045.89 L719.99 1045.5 L721.83 1045.11 L723.67 1044.72 L725.5 1044.32 L727.34 1043.92 L729.18 1043.52 L731.02 1043.11 L732.85 1042.71 L734.69 1042.3 L736.53 1041.89 L738.37 1041.47 L740.21 1041.06 L742.04 1040.64 L743.88 1040.22 L745.72 1039.8 L747.56 1039.37 L749.39 1038.94 L751.23 1038.52 L753.07 1038.08 L754.91 1037.65 L756.74 1037.21 L758.58 1036.77 L760.42 1036.33 L762.26 1035.89 L764.09 1035.44 L765.93 1034.99 L767.77 1034.54 L769.61 1034.09 L771.44 1033.63 L773.28 1033.18 L775.12 1032.72 L776.96 1032.25 L778.79 1031.79 L780.63 1031.32 L782.47 1030.85 L784.31 1030.38 L786.15 1029.9 L787.98 1029.43 L789.82 1028.95 L791.66 1028.46 L793.5 1027.98 L795.33 1027.49 L797.17 1027 L799.01 1026.51 L800.85 1026.01 L802.68 1025.52 L804.52 1025.02 L806.36 1024.51 L808.2 1024.01 L810.03 1023.5 L811.87 1022.99 L813.71 1022.48 L815.55 1021.96 L817.38 1021.45 L819.22 1020.93 L821.06 1020.4 L822.9 1019.88 L824.73 1019.35 L826.57 1018.82 L828.41 1018.28 L830.25 1017.75 L832.08 1017.21 L833.92 1016.67 L835.76 1016.13 L837.6 1015.58 L839.44 1015.03 L841.27 1014.48 L843.11 1013.92 L844.95 1013.37 L846.79 1012.81 L848.62 1012.24 L850.46 1011.68 L852.3 1011.11 L854.14 1010.54 L855.97 1009.97 L857.81 1009.39 L859.65 1008.81 L861.49 1008.23 L863.32 1007.65 L865.16 1007.06 L867 1006.47 L868.84 1005.88 L870.67 1005.28 L872.51 1004.68 L874.35 1004.08 L876.19 1003.48 L878.02 1002.87 L879.86 1002.26 L881.7 1001.65" fill="none" stroke="#850000" stroke-width="4.2" stroke-linecap="butt" stroke-linejoin="round"/>
<path d="M148.5 1105.6 L150.34 1105.6 L152.17 1105.6 L154.01 1105.6 L155.85 1105.59 L157.69 1105.59 L159.52 1105.59 L161.36 1105.59 L163.2 1105.59 L165.03 1105.58 L166.87 1105.58 L168.71 1105.58 L170.55 1105.58 L172.38 1105.58 L174.22 1105.58 L176.06 1105.57 L177.89 1105.57 L179.73 1105.57 L181.57 1105.57 L183.4 1105.57 L185.24 1105.56 L187.08 1105.56 L188.92 1105.56 L190.75 1105.56 L192.59 1105.56 L194.43 1105.55 L196.26 1105.55 L198.1 1105.55 L199.94 1105.55 L201.78 1105.55 L203.61 1105.54 L205.45 1105.54 L207.29 1105.54 L209.12 1105.54 L210.96 1105.54 L212.8 1105.53 L214.64 1105.53 L216.47 1105.53 L218.31 1105.53 L220.15 1105.52 L221.98 1105.52 L223.82 1105.52 L225.66 1105.52 L227.49 1105.52 L229.33 1105.51 L231.17 1105.51 L233.01 1105.51 L234.84 1105.51 L236.68 1105.5 L238.52 1105.5 L240.35 1105.5 L242.19 1105.5 L244.03 1105.49 L245.87 1105.49 L247.7 1105.49 L249.54 1105.49 L251.38 1105.48 L253.21 1105.48 L255.05 1105.48 L256.89 1105.48 L258.73 1105.47 L260.56 1105.47 L262.4 1105.47 L264.24 1105.47 L266.07 1105.46 L267.91 1105.46 L269.75 1105.46 L271.59 1105.46 L273.42 1105.45 L275.26 1105.45 L277.1 1105.45 L278.93 1105.44 L280.77 1105.44 L282.61 1105.44 L284.44 1105.44 L286.28 1105.43 L288.12 1105.43 L289.96 1105.43 L291.79 1105.42 L293.63 1105.42 L295.47 1105.42 L297.3 1105.42 L299.14 1105.41 L300.98 1105.41 L302.82 1105.41 L304.65 1105.4 L306.49 1105.4 L308.33 1105.4 L310.16 1105.4 L312 1105.39 L313.84 1105.39 L315.68 1105.39 L317.51 1105.38 L319.35 1105.38 L321.19 1105.38 L323.02 1105.37 L324.86 1105.37 L326.7 1105.37 L328.54 1105.36 L330.37 1105.36 L332.21 1105.36 L334.05 1105.35 L335.88 1105.35 L337.72 1105.35 L339.56 1105.34 L341.39 1105.34 L343.23 1105.34 L345.07 1105.34 L346.91 1105.33 L348.74 1105.33 L350.58 1105.33 L352.42 1105.32 L354.25 1105.32 L356.09 1105.31 L357.93 1105.31 L359.77 1105.31 L361.6 1105.3 L363.44 1105.3 L365.28 1105.3 L367.11 1105.29 L368.95 1105.29 L370.79 1105.29 L372.63 1105.28 L374.46 1105.28 L376.3 1105.28 L378.14 1105.27 L379.97 1105.27 L381.81 1105.27 L383.65 1105.26 L385.48 1105.26 L387.32 1105.25 L389.16 1105.25 L391 1105.25 L392.83 1105.24 L394.67 1105.24 L396.51 1105.24 L398.34 1105.23 L400.18 1105.23 L402.02 1105.22 L403.86 1105.22 L405.69 1105.22 L407.53 1105.21 L409.37 1105.21 L411.2 1105.21 L413.04 1105.2 L414.88 1105.2 L416.72 1105.19 L418.55 1105.19 L420.39 1105.19 L422.23 1105.18 L424.06 1105.18 L425.9 1105.17 L427.74 1105.17 L429.58 1105.17 L431.41 1105.16 L433.25 1105.16 L435.09 1105.15 L436.92 1105.15 L438.76 1105.15 L440.6 1105.14 L442.43 1105.14 L444.27 1105.13 L446.11 1105.13 L447.95 1105.13 L449.78 1105.12 L451.62 1105.12 L453.46 1105.11 L455.29 1105.11 L457.13 1105.1 L458.97 1105.1 L460.81 1105.1 L462.64 1105.09 L464.48 1105.09 L466.32 1105.08 L468.15 1105.08 L469.99 1105.07 L471.83 1105.07 L473.67 1105.06 L475.5 1105.06 L477.34 1105.06 L479.18 1105.05 L481.01 1105.05 L482.85 1105.04 L484.69 1105.04 L486.53 1105.03 L488.36 1105.03 L490.2 1105.02 L492.04 1105.02 L493.87 1105.02 L495.71 1105.01 L497.55 1105.01 L499.38 1105 L501.22 1105 L503.06 1104.99 L504.9 1104.99 L506.73 1104.98 L508.57 1104.98 L510.41 1104.97 L512.24 1104.97 L514.08 1104.96 L515.92 1104.96 L517.76 1104.95 L519.59 1104.95 L521.43 1104.94 L523.27 1104.94 L525.1 1104.94 L526.94 1104.93 L528.78 1104.93 L530.62 1104.92 L532.45 1104.92 L534.29 1104.91 L536.13 1104.91 L537.96 1104.9 L539.8 1104.9 L541.64 1104.89 L543.47 1104.89 L545.31 1104.88 L547.15 1104.88 L548.99 1104.87 L550.82 1104.87 L552.66 1104.86 L554.5 1104.86 L556.33 1104.85 L558.17 1104.85 L560.01 1104.84 L561.85 1104.84 L563.68 1104.83 L565.52 1104.82 L567.36 1104.82 L569.19 1104.81 L571.03 1104.81 L572.87 1104.8 L574.71 1104.8 L576.54 1104.79 L578.38 1104.79 L580.22 1104.78 L582.05 1104.78 L583.89 1104.77 L585.73 1104.77 L587.57 1104.76 L589.4 1104.76 L591.24 1104.75 L593.08 1104.75 L594.91 1104.74 L596.75 1104.73 L598.59 1104.73 L600.42 1104.72 L602.26 1104.72 L604.1 1104.71 L605.94 1104.71 L607.77 1104.7 L609.61 1104.7 L611.45 1104.69 L613.28 1104.68 L615.12 1104.68 L616.96 1104.67 L618.8 1104.67 L620.63 1104.66 L622.47 1104.66 L624.31 1104.65 L626.14 1104.64 L627.98 1104.64 L629.82 1104.63 L631.66 1104.63 L633.49 1104.62 L635.33 1104.62 L637.17 1104.61 L639 1104.6 L640.84 1104.6 L642.68 1104.59 L644.52 1104.59 L646.35 1104.58 L648.19 1104.58 L650.03 1104.57 L651.86 1104.56 L653.7 1104.56 L655.54 1104.55 L657.37 1104.55 L659.21 1104.54 L661.05 1104.53 L662.89 1104.53 L664.72 1104.52 L666.56 1104.52 L668.4 1104.51 L670.23 1104.5 L672.07 1104.5 L673.91 1104.49 L675.75 1104.49 L677.58 1104.48 L679.42 1104.47 L681.26 1104.47 L683.09 1104.46 L684.93 1104.45 L686.77 1104.45 L688.61 1104.44 L690.44 1104.44 L692.28 1104.43 L694.12 1104.42 L695.95 1104.42 L697.79 1104.41 L699.63 1104.4 L701.46 1104.4 L703.3 1104.39 L705.14 1104.38 L706.98 1104.38 L708.81 1104.37 L710.65 1104.37 L712.49 1104.36 L714.32 1104.35 L716.16 1104.35 L718 1104.34 L719.84 1104.33 L721.67 1104.33 L723.51 1104.32 L725.35 1104.31 L727.18 1104.31 L729.02 1104.3 L730.86 1104.29 L732.7 1104.29 L734.53 1104.28 L736.37 1104.27 L738.21 1104.27 L740.04 1104.26 L741.88 1104.25 L743.72 1104.25 L745.56 1104.24 L747.39 1104.23 L749.23 1104.23 L751.07 1104.22 L752.9 1104.21 L754.74 1104.21 L756.58 1104.2 L758.41 1104.19 L760.25 1104.19 L762.09 1104.18 L763.93 1104.17 L765.76 1104.17 L767.6 1104.16 L769.44 1104.15 L771.27 1104.14 L773.11 1104.14 L774.95 1104.13 L776.79 1104.12 L778.62 1104.12 L780.46 1104.11 L782.3 1104.1 L784.13 1104.1 L785.97 1104.09 L787.81 1104.08 L789.65 1104.07 L791.48 1104.07 L793.32 1104.06 L795.16 1104.05 L796.99 1104.05 L798.83 1104.04 L800.67 1104.03 L802.51 1104.02 L804.34 1104.02 L806.18 1104.01 L808.02 1104 L809.85 1104 L811.69 1103.99 L813.53 1103.98 L815.36 1103.97 L817.2 1103.97 L819.04 1103.96 L820.88 1103.95 L822.71 1103.94 L824.55 1103.94 L826.39 1103.93 L828.22 1103.92 L830.06 1103.91 L831.9 1103.91 L833.74 1103.9 L835.57 1103.89 L837.41 1103.88 L839.25 1103.88 L841.08 1103.87 L842.92 1103.86 L844.76 1103.85 L846.6 1103.85 L848.43 1103.84 L850.27 1103.83 L852.11 1103.82 L853.94 1103.82 L855.78 1103.81 L857.62 1103.8 L859.45 1103.79 L861.29 1103.79 L863.13 1103.78 L864.97 1103.77 L866.8 1103.76 L868.64 1103.75 L870.48 1103.75 L872.31 1103.74 L874.15 1103.73 L875.99 1103.72 L877.83 1103.72 L879.66 1103.71 L881.5 1103.7" fill="none" stroke="#0a820a" stroke-width="4.2" stroke-linecap="butt" stroke-linejoin="round"/>
<line x1="147.2" y1="607.7" x2="883.2" y2="607.7" stroke="#000" stroke-width="2.6"/>
<line x1="221.76" y1="607.7" x2="221.76" y2="613.7" stroke="#000" stroke-width="2.6"/>
<line x1="295.12" y1="607.7" x2="295.12" y2="620.2" stroke="#000" stroke-width="2.6"/>
<line x1="368.48" y1="607.7" x2="368.48" y2="613.7" stroke="#000" stroke-width="2.6"/>
<line x1="441.84" y1="607.7" x2="441.84" y2="620.2" stroke="#000" stroke-width="2.6"/>
<line x1="515.2" y1="607.7" x2="515.2" y2="613.7" stroke="#000" stroke-width="2.6"/>
<line x1="588.56" y1="607.7" x2="588.56" y2="620.2" stroke="#000" stroke-width="2.6"/>
<line x1="661.92" y1="607.7" x2="661.92" y2="613.7" stroke="#000" stroke-width="2.6"/>
<line x1="735.28" y1="607.7" x2="735.28" y2="620.2" stroke="#000" stroke-width="2.6"/>
<line x1="808.64" y1="607.7" x2="808.64" y2="613.7" stroke="#000" stroke-width="2.6"/>
<line x1="148.4" y1="606.5" x2="148.4" y2="1108.9" stroke="#000" stroke-width="2.6"/>
<line x1="134.2" y1="1107.7" x2="148.4" y2="1107.7" stroke="#000" stroke-width="2.6"/>
<line x1="141.2" y1="1076.45" x2="148.4" y2="1076.45" stroke="#000" stroke-width="2.6"/>
<line x1="134.2" y1="1045.2" x2="148.4" y2="1045.2" stroke="#000" stroke-width="2.6"/>
<line x1="141.2" y1="1013.95" x2="148.4" y2="1013.95" stroke="#000" stroke-width="2.6"/>
<line x1="134.2" y1="982.7" x2="148.4" y2="982.7" stroke="#000" stroke-width="2.6"/>
<line x1="141.2" y1="951.45" x2="148.4" y2="951.45" stroke="#000" stroke-width="2.6"/>
<line x1="134.2" y1="920.2" x2="148.4" y2="920.2" stroke="#000" stroke-width="2.6"/>
<line x1="141.2" y1="888.95" x2="148.4" y2="888.95" stroke="#000" stroke-width="2.6"/>
<line x1="134.2" y1="857.7" x2="148.4" y2="857.7" stroke="#000" stroke-width="2.6"/>
<line x1="141.2" y1="826.45" x2="148.4" y2="826.45" stroke="#000" stroke-width="2.6"/>
<line x1="134.2" y1="795.2" x2="148.4" y2="795.2" stroke="#000" stroke-width="2.6"/>
<line x1="141.2" y1="763.95" x2="148.4" y2="763.95" stroke="#000" stroke-width="2.6"/>
<line x1="134.2" y1="732.7" x2="148.4" y2="732.7" stroke="#000" stroke-width="2.6"/>
<line x1="141.2" y1="701.45" x2="148.4" y2="701.45" stroke="#000" stroke-width="2.6"/>
<line x1="134.2" y1="670.2" x2="148.4" y2="670.2" stroke="#000" stroke-width="2.6"/>
<line x1="141.2" y1="638.95" x2="148.4" y2="638.95" stroke="#000" stroke-width="2.6"/>
<line x1="134.2" y1="607.7" x2="148.4" y2="607.7" stroke="#000" stroke-width="2.6"/>
<text class="n" x="124.2" y="1118.3" font-size="36" text-anchor="end" fill="#000" letter-spacing="2.2">0.25</text>
<text class="n" x="124.2" y="1055.8" font-size="36" text-anchor="end" fill="#000" letter-spacing="2.2">0.30</text>
<text class="n" x="124.2" y="993.3" font-size="36" text-anchor="end" fill="#000" letter-spacing="2.2">0.35</text>
<text class="n" x="124.2" y="930.8" font-size="36" text-anchor="end" fill="#000" letter-spacing="2.2">0.40</text>
<text class="n" x="124.2" y="868.3" font-size="36" text-anchor="end" fill="#000" letter-spacing="2.2">0.45</text>
<text class="n" x="124.2" y="805.8" font-size="36" text-anchor="end" fill="#000" letter-spacing="2.2">0.50</text>
<text class="n" x="124.2" y="743.3" font-size="36" text-anchor="end" fill="#000" letter-spacing="2.2">0.55</text>
<text class="n" x="124.2" y="680.8" font-size="36" text-anchor="end" fill="#000" letter-spacing="2.2">0.60</text>
<text class="n" x="124.2" y="618.3" font-size="36" text-anchor="end" fill="#000" letter-spacing="2.2">0.65</text>
<line x1="882" y1="606.5" x2="882" y2="1108.9" stroke="#000" stroke-width="2.6"/>
<line x1="882" y1="1107.7" x2="896.8" y2="1107.7" stroke="#000" stroke-width="2.6"/>
<line x1="882" y1="1074.37" x2="890" y2="1074.37" stroke="#000" stroke-width="2.6"/>
<line x1="882" y1="1041.03" x2="896.8" y2="1041.03" stroke="#000" stroke-width="2.6"/>
<line x1="882" y1="1007.7" x2="890" y2="1007.7" stroke="#000" stroke-width="2.6"/>
<line x1="882" y1="974.37" x2="896.8" y2="974.37" stroke="#000" stroke-width="2.6"/>
<line x1="882" y1="941.03" x2="890" y2="941.03" stroke="#000" stroke-width="2.6"/>
<line x1="882" y1="907.7" x2="896.8" y2="907.7" stroke="#000" stroke-width="2.6"/>
<line x1="882" y1="874.37" x2="890" y2="874.37" stroke="#000" stroke-width="2.6"/>
<line x1="882" y1="841.03" x2="896.8" y2="841.03" stroke="#000" stroke-width="2.6"/>
<line x1="882" y1="807.7" x2="890" y2="807.7" stroke="#000" stroke-width="2.6"/>
<line x1="882" y1="774.37" x2="896.8" y2="774.37" stroke="#000" stroke-width="2.6"/>
<line x1="882" y1="741.03" x2="890" y2="741.03" stroke="#000" stroke-width="2.6"/>
<line x1="882" y1="707.7" x2="896.8" y2="707.7" stroke="#000" stroke-width="2.6"/>
<line x1="882" y1="674.37" x2="890" y2="674.37" stroke="#000" stroke-width="2.6"/>
<line x1="882" y1="641.03" x2="896.8" y2="641.03" stroke="#000" stroke-width="2.6"/>
<line x1="882" y1="607.7" x2="890" y2="607.7" stroke="#000" stroke-width="2.6"/>
<text class="n" x="903.5" y="1084.97" font-size="36" fill="#000" letter-spacing="2.2">0.048</text>
<text class="n" x="903.5" y="1018.3" font-size="36" fill="#000" letter-spacing="2.2">0.050</text>
<text class="n" x="903.5" y="951.63" font-size="36" fill="#000" letter-spacing="2.2">0.052</text>
<text class="n" x="903.5" y="884.97" font-size="36" fill="#000" letter-spacing="2.2">0.054</text>
<text class="n" x="903.5" y="818.3" font-size="36" fill="#000" letter-spacing="2.2">0.056</text>
<text class="n" x="903.5" y="751.63" font-size="36" fill="#000" letter-spacing="2.2">0.058</text>
<text class="n" x="903.5" y="684.97" font-size="36" fill="#000" letter-spacing="2.2">0.060</text>
<text class="n" x="903.5" y="618.3" font-size="36" fill="#000" letter-spacing="2.2">0.062</text>
<line x1="134.2" y1="1107.7" x2="883.2" y2="1107.7" stroke="#000" stroke-width="2.6"/>
<line x1="148.4" y1="1107.7" x2="148.4" y2="1119.5" stroke="#000" stroke-width="2.6"/>
<line x1="221.76" y1="1107.7" x2="221.76" y2="1113.9" stroke="#000" stroke-width="2.6"/>
<line x1="295.12" y1="1107.7" x2="295.12" y2="1119.5" stroke="#000" stroke-width="2.6"/>
<line x1="368.48" y1="1107.7" x2="368.48" y2="1113.9" stroke="#000" stroke-width="2.6"/>
<line x1="441.84" y1="1107.7" x2="441.84" y2="1119.5" stroke="#000" stroke-width="2.6"/>
<line x1="515.2" y1="1107.7" x2="515.2" y2="1113.9" stroke="#000" stroke-width="2.6"/>
<line x1="588.56" y1="1107.7" x2="588.56" y2="1119.5" stroke="#000" stroke-width="2.6"/>
<line x1="661.92" y1="1107.7" x2="661.92" y2="1113.9" stroke="#000" stroke-width="2.6"/>
<line x1="735.28" y1="1107.7" x2="735.28" y2="1119.5" stroke="#000" stroke-width="2.6"/>
<line x1="808.64" y1="1107.7" x2="808.64" y2="1113.9" stroke="#000" stroke-width="2.6"/>
<line x1="882" y1="1107.7" x2="882" y2="1119.5" stroke="#000" stroke-width="2.6"/>
<text class="n" x="149.5" y="1154.3" font-size="36" text-anchor="middle" fill="#000" letter-spacing="2.2">0</text>
<text class="n" x="293.72" y="1154.3" font-size="36" text-anchor="middle" fill="#000" letter-spacing="2.2">200</text>
<text class="n" x="440.44" y="1154.3" font-size="36" text-anchor="middle" fill="#000" letter-spacing="2.2">400</text>
<text class="n" x="588.16" y="1154.3" font-size="36" text-anchor="middle" fill="#000" letter-spacing="2.2">600</text>
<text class="n" x="734.88" y="1154.3" font-size="36" text-anchor="middle" fill="#000" letter-spacing="2.2">800</text>
<text class="n" x="881.6" y="1154.3" font-size="36" text-anchor="middle" fill="#000" letter-spacing="2.2">1000</text>
<path d="M148.5 1338.81 L150.34 1338.81 L152.17 1338.81 L154.01 1338.81 L155.84 1338.81 L157.68 1338.8 L159.51 1338.8 L161.35 1338.79 L163.18 1338.79 L165.02 1338.78 L166.86 1338.77 L168.69 1338.76 L170.53 1338.75 L172.36 1338.74 L174.2 1338.73 L176.03 1338.72 L177.87 1338.7 L179.71 1338.69 L181.54 1338.67 L183.38 1338.66 L185.21 1338.64 L187.05 1338.62 L188.88 1338.61 L190.72 1338.59 L192.55 1338.57 L194.39 1338.54 L196.23 1338.52 L198.06 1338.5 L199.9 1338.48 L201.73 1338.45 L203.57 1338.42 L205.4 1338.4 L207.24 1338.37 L209.07 1338.34 L210.91 1338.31 L212.75 1338.28 L214.58 1338.25 L216.42 1338.22 L218.25 1338.19 L220.09 1338.15 L221.92 1338.12 L223.76 1338.08 L225.59 1338.05 L227.43 1338.01 L229.27 1337.97 L231.1 1337.93 L232.94 1337.89 L234.77 1337.85 L236.61 1337.81 L238.44 1337.77 L240.28 1337.73 L242.12 1337.68 L243.95 1337.64 L245.79 1337.59 L247.62 1337.54 L249.46 1337.5 L251.29 1337.45 L253.13 1337.4 L254.96 1337.35 L256.8 1337.29 L258.64 1337.24 L260.47 1337.19 L262.31 1337.14 L264.14 1337.08 L265.98 1337.02 L267.81 1336.97 L269.65 1336.91 L271.48 1336.85 L273.32 1336.79 L275.16 1336.73 L276.99 1336.67 L278.83 1336.61 L280.66 1336.54 L282.5 1336.48 L284.33 1336.42 L286.17 1336.35 L288 1336.28 L289.84 1336.21 L291.68 1336.15 L293.51 1336.08 L295.35 1336.01 L297.18 1335.94 L299.02 1335.86 L300.85 1335.79 L302.69 1335.72 L304.53 1335.64 L306.36 1335.57 L308.2 1335.49 L310.03 1335.41 L311.87 1335.33 L313.7 1335.25 L315.54 1335.17 L317.37 1335.09 L319.21 1335.01 L321.05 1334.93 L322.88 1334.84 L324.72 1334.76 L326.55 1334.67 L328.39 1334.58 L330.22 1334.5 L332.06 1334.41 L333.89 1334.32 L335.73 1334.23 L337.57 1334.14 L339.4 1334.04 L341.24 1333.95 L343.07 1333.86 L344.91 1333.76 L346.74 1333.67 L348.58 1333.57 L350.41 1333.47 L352.25 1333.37 L354.09 1333.27 L355.92 1333.17 L357.76 1333.07 L359.59 1332.97 L361.43 1332.87 L363.26 1332.76 L365.1 1332.66 L366.94 1332.55 L368.77 1332.44 L370.61 1332.34 L372.44 1332.23 L374.28 1332.12 L376.11 1332.01 L377.95 1331.9 L379.78 1331.78 L381.62 1331.67 L383.46 1331.56 L385.29 1331.44 L387.13 1331.32 L388.96 1331.21 L390.8 1331.09 L392.63 1330.97 L394.47 1330.85 L396.3 1330.73 L398.14 1330.61 L399.98 1330.49 L401.81 1330.36 L403.65 1330.24 L405.48 1330.11 L407.32 1329.99 L409.15 1329.86 L410.99 1329.73 L412.82 1329.6 L414.66 1329.47 L416.5 1329.34 L418.33 1329.21 L420.17 1329.08 L422 1328.94 L423.84 1328.81 L425.67 1328.67 L427.51 1328.54 L429.35 1328.4 L431.18 1328.26 L433.02 1328.12 L434.85 1327.98 L436.69 1327.84 L438.52 1327.7 L440.36 1327.56 L442.19 1327.41 L444.03 1327.27 L445.87 1327.12 L447.7 1326.97 L449.54 1326.83 L451.37 1326.68 L453.21 1326.53 L455.04 1326.38 L456.88 1326.23 L458.71 1326.08 L460.55 1325.92 L462.39 1325.77 L464.22 1325.61 L466.06 1325.46 L467.89 1325.3 L469.73 1325.14 L471.56 1324.98 L473.4 1324.82 L475.23 1324.66 L477.07 1324.5 L478.91 1324.34 L480.74 1324.18 L482.58 1324.01 L484.41 1323.85 L486.25 1323.68 L488.08 1323.51 L489.92 1323.35 L491.76 1323.18 L493.59 1323.01 L495.43 1322.84 L497.26 1322.66 L499.1 1322.49 L500.93 1322.32 L502.77 1322.14 L504.6 1321.97 L506.44 1321.79 L508.28 1321.61 L510.11 1321.44 L511.95 1321.26 L513.78 1321.08 L515.62 1320.9 L517.45 1320.71 L519.29 1320.53 L521.12 1320.35 L522.96 1320.16 L524.8 1319.98 L526.63 1319.79 L528.47 1319.6 L530.3 1319.41 L532.14 1319.23 L533.97 1319.03 L535.81 1318.84 L537.64 1318.65 L539.48 1318.46 L541.32 1318.26 L543.15 1318.07 L544.99 1317.87 L546.82 1317.68 L548.66 1317.48 L550.49 1317.28 L552.33 1317.08 L554.17 1316.88 L556 1316.68 L557.84 1316.48 L559.67 1316.27 L561.51 1316.07 L563.34 1315.86 L565.18 1315.66 L567.01 1315.45 L568.85 1315.24 L570.69 1315.03 L572.52 1314.82 L574.36 1314.61 L576.19 1314.4 L578.03 1314.19 L579.86 1313.98 L581.7 1313.76 L583.53 1313.55 L585.37 1313.33 L587.21 1313.11 L589.04 1312.9 L590.88 1312.68 L592.71 1312.46 L594.55 1312.24 L596.38 1312.01 L598.22 1311.79 L600.05 1311.57 L601.89 1311.34 L603.73 1311.12 L605.56 1310.89 L607.4 1310.66 L609.23 1310.44 L611.07 1310.21 L612.9 1309.98 L614.74 1309.75 L616.58 1309.51 L618.41 1309.28 L620.25 1309.05 L622.08 1308.81 L623.92 1308.58 L625.75 1308.34 L627.59 1308.1 L629.42 1307.86 L631.26 1307.63 L633.1 1307.39 L634.93 1307.14 L636.77 1306.9 L638.6 1306.66 L640.44 1306.42 L642.27 1306.17 L644.11 1305.93 L645.94 1305.68 L647.78 1305.43 L649.62 1305.18 L651.45 1304.93 L653.29 1304.68 L655.12 1304.43 L656.96 1304.18 L658.79 1303.93 L660.63 1303.67 L662.46 1303.42 L664.3 1303.16 L666.14 1302.91 L667.97 1302.65 L669.81 1302.39 L671.64 1302.13 L673.48 1301.87 L675.31 1301.61 L677.15 1301.35 L678.99 1301.08 L680.82 1300.82 L682.66 1300.56 L684.49 1300.29 L686.33 1300.02 L688.16 1299.76 L690 1299.49 L691.83 1299.22 L693.67 1298.95 L695.51 1298.68 L697.34 1298.4 L699.18 1298.13 L701.01 1297.86 L702.85 1297.58 L704.68 1297.31 L706.52 1297.03 L708.35 1296.75 L710.19 1296.47 L712.03 1296.19 L713.86 1295.91 L715.7 1295.63 L717.53 1295.35 L719.37 1295.07 L721.2 1294.78 L723.04 1294.5 L724.87 1294.21 L726.71 1293.93 L728.55 1293.64 L730.38 1293.35 L732.22 1293.06 L734.05 1292.77 L735.89 1292.48 L737.72 1292.19 L739.56 1291.9 L741.4 1291.6 L743.23 1291.31 L745.07 1291.01 L746.9 1290.72 L748.74 1290.42 L750.57 1290.12 L752.41 1289.82 L754.24 1289.52 L756.08 1289.22 L757.92 1288.92 L759.75 1288.62 L761.59 1288.31 L763.42 1288.01 L765.26 1287.71 L767.09 1287.4 L768.93 1287.09 L770.76 1286.78 L772.6 1286.48 L774.44 1286.17 L776.27 1285.86 L778.11 1285.54 L779.94 1285.23 L781.78 1284.92 L783.61 1284.6 L785.45 1284.29 L787.28 1283.97 L789.12 1283.66 L790.96 1283.34 L792.79 1283.02 L794.63 1282.7 L796.46 1282.38 L798.3 1282.06 L800.13 1281.74 L801.97 1281.42 L803.81 1281.09 L805.64 1280.77 L807.48 1280.44 L809.31 1280.12 L811.15 1279.79 L812.98 1279.46 L814.82 1279.13 L816.65 1278.8 L818.49 1278.47 L820.33 1278.14 L822.16 1277.81 L824 1277.47 L825.83 1277.14 L827.67 1276.8 L829.5 1276.47 L831.34 1276.13 L833.17 1275.79 L835.01 1275.46 L836.85 1275.12 L838.68 1274.78 L840.52 1274.44 L842.35 1274.09 L844.19 1273.75 L846.02 1273.41 L847.86 1273.06 L849.69 1272.72 L851.53 1272.37 L853.37 1272.02 L855.2 1271.68 L857.04 1271.33 L858.87 1270.98 L860.71 1270.63 L862.54 1270.28 L864.38 1269.92 L866.22 1269.57 L868.05 1269.22 L869.89 1268.86 L871.72 1268.51 L873.56 1268.15 L875.39 1267.79 L877.23 1267.44 L879.06 1267.08 L880.9 1266.72" fill="none" stroke="#00007d" stroke-width="4.2" stroke-linecap="round" stroke-linejoin="round" stroke-dasharray="20.9 15.4 2.9 15.4"/>
<path d="M148.5 1658.38 L150.29 1658.38 L152.08 1658.38 L153.87 1658.37 L155.66 1658.37 L157.45 1658.37 L159.24 1658.36 L161.03 1658.35 L162.82 1658.34 L164.61 1658.34 L166.39 1658.32 L168.18 1658.31 L169.97 1658.3 L171.76 1658.29 L173.55 1658.27 L175.34 1658.26 L177.13 1658.24 L178.92 1658.22 L180.71 1658.2 L182.5 1658.18 L184.29 1658.16 L186.08 1658.14 L187.87 1658.11 L189.66 1658.09 L191.45 1658.06 L193.24 1658.04 L195.03 1658.01 L196.82 1657.98 L198.61 1657.95 L200.39 1657.92 L202.18 1657.89 L203.97 1657.85 L205.76 1657.82 L207.55 1657.78 L209.34 1657.75 L211.13 1657.71 L212.92 1657.67 L214.71 1657.63 L216.5 1657.59 L218.29 1657.55 L220.08 1657.5 L221.87 1657.46 L223.66 1657.41 L225.45 1657.37 L227.24 1657.32 L229.03 1657.27 L230.82 1657.22 L232.61 1657.17 L234.39 1657.12 L236.18 1657.06 L237.97 1657.01 L239.76 1656.95 L241.55 1656.9 L243.34 1656.84 L245.13 1656.78 L246.92 1656.72 L248.71 1656.66 L250.5 1656.6 L252.29 1656.54 L254.08 1656.47 L255.87 1656.41 L257.66 1656.34 L259.45 1656.27 L261.24 1656.21 L263.03 1656.14 L264.82 1656.07 L266.61 1655.99 L268.39 1655.92 L270.18 1655.85 L271.97 1655.77 L273.76 1655.7 L275.55 1655.62 L277.34 1655.54 L279.13 1655.46 L280.92 1655.38 L282.71 1655.3 L284.5 1655.22 L286.29 1655.13 L288.08 1655.05 L289.87 1654.96 L291.66 1654.88 L293.45 1654.79 L295.24 1654.7 L297.03 1654.61 L298.82 1654.52 L300.61 1654.43 L302.39 1654.33 L304.18 1654.24 L305.97 1654.14 L307.76 1654.05 L309.55 1653.95 L311.34 1653.85 L313.13 1653.75 L314.92 1653.65 L316.71 1653.55 L318.5 1653.44 L320.29 1653.34 L322.08 1653.23 L323.87 1653.13 L325.66 1653.02 L327.45 1652.91 L329.24 1652.8 L331.03 1652.69 L332.82 1652.58 L334.61 1652.47 L336.39 1652.35 L338.18 1652.24 L339.97 1652.12 L341.76 1652 L343.55 1651.89 L345.34 1651.77 L347.13 1651.65 L348.92 1651.52 L350.71 1651.4 L352.5 1651.28 L354.29 1651.15 L356.08 1651.03 L357.87 1650.9 L359.66 1650.77 L361.45 1650.64 L363.24 1650.51 L365.03 1650.38 L366.82 1650.25 L368.61 1650.12 L370.39 1649.98 L372.18 1649.85 L373.97 1649.71 L375.76 1649.57 L377.55 1649.43 L379.34 1649.29 L381.13 1649.15 L382.92 1649.01 L384.71 1648.86 L386.5 1648.72 L388.29 1648.57 L390.08 1648.43 L391.87 1648.28 L393.66 1648.13 L395.45 1647.98 L397.24 1647.83 L399.03 1647.68 L400.82 1647.53 L402.61 1647.37 L404.39 1647.22 L406.18 1647.06 L407.97 1646.9 L409.76 1646.74 L411.55 1646.58 L413.34 1646.42 L415.13 1646.26 L416.92 1646.1 L418.71 1645.94 L420.5 1645.77 L422.29 1645.6 L424.08 1645.44 L425.87 1645.27 L427.66 1645.1 L429.45 1644.93 L431.24 1644.76 L433.03 1644.58 L434.82 1644.41 L436.61 1644.24 L438.39 1644.06 L440.18 1643.88 L441.97 1643.71 L443.76 1643.53 L445.55 1643.35 L447.34 1643.16 L449.13 1642.98 L450.92 1642.8 L452.71 1642.61 L454.5 1642.43 L456.29 1642.24 L458.08 1642.05 L459.87 1641.86 L461.66 1641.67 L463.45 1641.48 L465.24 1641.29 L467.03 1641.1 L468.82 1640.9 L470.61 1640.71 L472.39 1640.51 L474.18 1640.31 L475.97 1640.11 L477.76 1639.92 L479.55 1639.71 L481.34 1639.51 L483.13 1639.31 L484.92 1639.1 L486.71 1638.9 L488.5 1638.69 L490.29 1638.49 L492.08 1638.28 L493.87 1638.07 L495.66 1637.86 L497.45 1637.64 L499.24 1637.43 L501.03 1637.22 L502.82 1637 L504.61 1636.79 L506.39 1636.57 L508.18 1636.35 L509.97 1636.13 L511.76 1635.91 L513.55 1635.69 L515.34 1635.47 L517.13 1635.24 L518.92 1635.02 L520.71 1634.79 L522.5 1634.56 L524.29 1634.34 L526.08 1634.11 L527.87 1633.88 L529.66 1633.65 L531.45 1633.41 L533.24 1633.18 L535.03 1632.94 L536.82 1632.71 L538.61 1632.47 L540.39 1632.23 L542.18 1631.99 L543.97 1631.75 L545.76 1631.51 L547.55 1631.27 L549.34 1631.03 L551.13 1630.78 L552.92 1630.54 L554.71 1630.29 L556.5 1630.04 L558.29 1629.79 L560.08 1629.54 L561.87 1629.29 L563.66 1629.04 L565.45 1628.79 L567.24 1628.53 L569.03 1628.28 L570.82 1628.02 L572.61 1627.76 L574.39 1627.5 L576.18 1627.24 L577.97 1626.98 L579.76 1626.72 L581.55 1626.46 L583.34 1626.19 L585.13 1625.93 L586.92 1625.66 L588.71 1625.39 L590.5 1625.12 L592.29 1624.85 L594.08 1624.58 L595.87 1624.31 L597.66 1624.04 L599.45 1623.76 L601.24 1623.49 L603.03 1623.21 L604.82 1622.93 L606.61 1622.65 L608.39 1622.37 L610.18 1622.09 L611.97 1621.81 L613.76 1621.53 L615.55 1621.24 L617.34 1620.96 L619.13 1620.67 L620.92 1620.38 L622.71 1620.09 L624.5 1619.81 L626.29 1619.51 L628.08 1619.22 L629.87 1618.93 L631.66 1618.63 L633.45 1618.34 L635.24 1618.04 L637.03 1617.75 L638.82 1617.45 L640.61 1617.15 L642.39 1616.85 L644.18 1616.54 L645.97 1616.24 L647.76 1615.94 L649.55 1615.63 L651.34 1615.33 L653.13 1615.02 L654.92 1614.71 L656.71 1614.4 L658.5 1614.09 L660.29 1613.78 L662.08 1613.46 L663.87 1613.15 L665.66 1612.83 L667.45 1612.52 L669.24 1612.2 L671.03 1611.88 L672.82 1611.56 L674.61 1611.24 L676.39 1610.92 L678.18 1610.6 L679.97 1610.27 L681.76 1609.95 L683.55 1609.62 L685.34 1609.29 L687.13 1608.96 L688.92 1608.63 L690.71 1608.3 L692.5 1607.97 L694.29 1607.64 L696.08 1607.3 L697.87 1606.97 L699.66 1606.63 L701.45 1606.29 L703.24 1605.96 L705.03 1605.62 L706.82 1605.27 L708.61 1604.93 L710.39 1604.59 L712.18 1604.24 L713.97 1603.9 L715.76 1603.55 L717.55 1603.2 L719.34 1602.86 L721.13 1602.51 L722.92 1602.15 L724.71 1601.8 L726.5 1601.45 L728.29 1601.09 L730.08 1600.74 L731.87 1600.38 L733.66 1600.02 L735.45 1599.67 L737.24 1599.31 L739.03 1598.94 L740.82 1598.58 L742.61 1598.22 L744.39 1597.85 L746.18 1597.49 L747.97 1597.12 L749.76 1596.75 L751.55 1596.38 L753.34 1596.01 L755.13 1595.64 L756.92 1595.27 L758.71 1594.9 L760.5 1594.52 L762.29 1594.14 L764.08 1593.77 L765.87 1593.39 L767.66 1593.01 L769.45 1592.63 L771.24 1592.25 L773.03 1591.86 L774.82 1591.48 L776.61 1591.1 L778.39 1590.71 L780.18 1590.32 L781.97 1589.93 L783.76 1589.54 L785.55 1589.15 L787.34 1588.76 L789.13 1588.37 L790.92 1587.97 L792.71 1587.58 L794.5 1587.18 L796.29 1586.79 L798.08 1586.39 L799.87 1585.99 L801.66 1585.59 L803.45 1585.18 L805.24 1584.78 L807.03 1584.38 L808.82 1583.97 L810.61 1583.56 L812.39 1583.16 L814.18 1582.75 L815.97 1582.34 L817.76 1581.92 L819.55 1581.51 L821.34 1581.1 L823.13 1580.68 L824.92 1580.27 L826.71 1579.85 L828.5 1579.43 L830.29 1579.01 L832.08 1578.59 L833.87 1578.17 L835.66 1577.75 L837.45 1577.32 L839.24 1576.9 L841.03 1576.47 L842.82 1576.04 L844.61 1575.62 L846.39 1575.19 L848.18 1574.76 L849.97 1574.32 L851.76 1573.89 L853.55 1573.46 L855.34 1573.02 L857.13 1572.58 L858.92 1572.15 L860.71 1571.71 L862.5 1571.27" fill="none" stroke="#f28512" stroke-width="4.2" stroke-linecap="round" stroke-linejoin="round" stroke-dasharray="18.5 24.8"/>
<path d="M148.5 1273.27 L150.34 1273.27 L152.17 1273.28 L154.01 1273.29 L155.84 1273.31 L157.68 1273.34 L159.51 1273.37 L161.35 1273.41 L163.18 1273.45 L165.02 1273.5 L166.86 1273.55 L168.69 1273.61 L170.53 1273.68 L172.36 1273.75 L174.2 1273.82 L176.03 1273.91 L177.87 1273.99 L179.71 1274.09 L181.54 1274.18 L183.38 1274.29 L185.21 1274.4 L187.05 1274.51 L188.88 1274.63 L190.72 1274.76 L192.55 1274.89 L194.39 1275.03 L196.23 1275.17 L198.06 1275.32 L199.9 1275.47 L201.73 1275.63 L203.57 1275.79 L205.4 1275.96 L207.24 1276.14 L209.07 1276.32 L210.91 1276.5 L212.75 1276.69 L214.58 1276.89 L216.42 1277.09 L218.25 1277.3 L220.09 1277.51 L221.92 1277.73 L223.76 1277.95 L225.59 1278.18 L227.43 1278.42 L229.27 1278.65 L231.1 1278.9 L232.94 1279.15 L234.77 1279.4 L236.61 1279.66 L238.44 1279.93 L240.28 1280.2 L242.12 1280.47 L243.95 1280.76 L245.79 1281.04 L247.62 1281.33 L249.46 1281.63 L251.29 1281.93 L253.13 1282.24 L254.96 1282.55 L256.8 1282.87 L258.64 1283.19 L260.47 1283.52 L262.31 1283.85 L264.14 1284.19 L265.98 1284.53 L267.81 1284.88 L269.65 1285.24 L271.48 1285.59 L273.32 1285.96 L275.16 1286.33 L276.99 1286.7 L278.83 1287.08 L280.66 1287.46 L282.5 1287.85 L284.33 1288.25 L286.17 1288.65 L288 1289.05 L289.84 1289.46 L291.68 1289.87 L293.51 1290.29 L295.35 1290.72 L297.18 1291.15 L299.02 1291.58 L300.85 1292.02 L302.69 1292.47 L304.53 1292.92 L306.36 1293.37 L308.2 1293.83 L310.03 1294.3 L311.87 1294.77 L313.7 1295.24 L315.54 1295.72 L317.37 1296.21 L319.21 1296.7 L321.05 1297.19 L322.88 1297.69 L324.72 1298.2 L326.55 1298.71 L328.39 1299.22 L330.22 1299.74 L332.06 1300.26 L333.89 1300.79 L335.73 1301.33 L337.57 1301.87 L339.4 1302.41 L341.24 1302.96 L343.07 1303.52 L344.91 1304.07 L346.74 1304.64 L348.58 1305.21 L350.41 1305.78 L352.25 1306.36 L354.09 1306.94 L355.92 1307.53 L357.76 1308.13 L359.59 1308.73 L361.43 1309.33 L363.26 1309.94 L365.1 1310.55 L366.94 1311.17 L368.77 1311.79 L370.61 1312.42 L372.44 1313.05 L374.28 1313.69 L376.11 1314.33 L377.95 1314.98 L379.78 1315.63 L381.62 1316.29 L383.46 1316.95 L385.29 1317.62 L387.13 1318.29 L388.96 1318.97 L390.8 1319.65 L392.63 1320.34 L394.47 1321.03 L396.3 1321.72 L398.14 1322.42 L399.98 1323.13 L401.81 1323.84 L403.65 1324.56 L405.48 1325.28 L407.32 1326 L409.15 1326.73 L410.99 1327.47 L412.82 1328.21 L414.66 1328.95 L416.5 1329.7 L418.33 1330.46 L420.17 1331.22 L422 1331.98 L423.84 1332.75 L425.67 1333.53 L427.51 1334.3 L429.35 1335.09 L431.18 1335.88 L433.02 1336.67 L434.85 1337.47 L436.69 1338.27 L438.52 1339.08 L440.36 1339.89 L442.19 1340.71 L444.03 1341.54 L445.87 1342.36 L447.7 1343.2 L449.54 1344.03 L451.37 1344.88 L453.21 1345.72 L455.04 1346.57 L456.88 1347.43 L458.71 1348.29 L460.55 1349.16 L462.39 1350.03 L464.22 1350.91 L466.06 1351.79 L467.89 1352.68 L469.73 1353.57 L471.56 1354.46 L473.4 1355.37 L475.23 1356.27 L477.07 1357.18 L478.91 1358.1 L480.74 1359.02 L482.58 1359.95 L484.41 1360.88 L486.25 1361.81 L488.08 1362.75 L489.92 1363.7 L491.76 1364.65 L493.59 1365.6 L495.43 1366.56 L497.26 1367.53 L499.1 1368.5 L500.93 1369.47 L502.77 1370.45 L504.6 1371.44 L506.44 1372.43 L508.28 1373.42 L510.11 1374.42 L511.95 1375.43 L513.78 1376.44 L515.62 1377.45 L517.45 1378.47 L519.29 1379.5 L521.12 1380.53 L522.96 1381.56 L524.8 1382.6 L526.63 1383.65 L528.47 1384.7 L530.3 1385.75 L532.14 1386.81 L533.97 1387.88 L535.81 1388.95 L537.64 1390.02 L539.48 1391.1 L541.32 1392.19 L543.15 1393.28 L544.99 1394.37 L546.82 1395.47 L548.66 1396.58 L550.49 1397.69 L552.33 1398.81 L554.17 1399.93 L556 1401.05 L557.84 1402.18 L559.67 1403.32 L561.51 1404.46 L563.34 1405.61 L565.18 1406.76 L567.01 1407.91 L568.85 1409.08 L570.69 1410.24 L572.52 1411.42 L574.36 1412.59 L576.19 1413.77 L578.03 1414.96 L579.86 1416.16 L581.7 1417.35 L583.53 1418.56 L585.37 1419.76 L587.21 1420.98 L589.04 1422.2 L590.88 1423.42 L592.71 1424.65 L594.55 1425.88 L596.38 1427.12 L598.22 1428.37 L600.05 1429.62 L601.89 1430.88 L603.73 1432.14 L605.56 1433.4 L607.4 1434.67 L609.23 1435.95 L611.07 1437.23 L612.9 1438.52 L614.74 1439.81 L616.58 1441.11 L618.41 1442.41 L620.25 1443.72 L622.08 1445.04 L623.92 1446.36 L625.75 1447.68 L627.59 1449.01 L629.42 1450.35 L631.26 1451.69 L633.1 1453.04 L634.93 1454.39 L636.77 1455.75 L638.6 1457.11 L640.44 1458.48 L642.27 1459.85 L644.11 1461.23 L645.94 1462.62 L647.78 1464.01 L649.62 1465.4 L651.45 1466.8 L653.29 1468.21 L655.12 1469.62 L656.96 1471.04 L658.79 1472.46 L660.63 1473.89 L662.46 1475.33 L664.3 1476.77 L666.14 1478.22 L667.97 1479.67 L669.81 1481.12 L671.64 1482.59 L673.48 1484.06 L675.31 1485.53 L677.15 1487.01 L678.99 1488.5 L680.82 1489.99 L682.66 1491.49 L684.49 1492.99 L686.33 1494.5 L688.16 1496.01 L690 1497.53 L691.83 1499.06 L693.67 1500.59 L695.51 1502.13 L697.34 1503.67 L699.18 1505.22 L701.01 1506.77 L702.85 1508.34 L704.68 1509.9 L706.52 1511.47 L708.35 1513.05 L710.19 1514.64 L712.03 1516.23 L713.86 1517.82 L715.7 1519.43 L717.53 1521.03 L719.37 1522.65 L721.2 1524.27 L723.04 1525.89 L724.87 1527.53 L726.71 1529.16 L728.55 1530.81 L730.38 1532.46 L732.22 1534.12 L734.05 1535.78 L735.89 1537.45 L737.72 1539.12 L739.56 1540.8 L741.4 1542.49 L743.23 1544.18 L745.07 1545.88 L746.9 1547.59 L748.74 1549.3 L750.57 1551.02 L752.41 1552.74 L754.24 1554.47 L756.08 1556.21 L757.92 1557.95 L759.75 1559.7 L761.59 1561.45 L763.42 1563.21 L765.26 1564.98 L767.09 1566.76 L768.93 1568.54 L770.76 1570.32 L772.6 1572.12 L774.44 1573.92 L776.27 1575.72 L778.11 1577.54 L779.94 1579.36 L781.78 1581.18 L783.61 1583.01 L785.45 1584.85 L787.28 1586.7 L789.12 1588.55 L790.96 1590.41 L792.79 1592.27 L794.63 1594.14 L796.46 1596.02 L798.3 1597.9 L800.13 1599.8 L801.97 1601.69 L803.81 1603.6 L805.64 1605.51 L807.48 1607.43 L809.31 1609.35 L811.15 1611.28 L812.98 1613.22 L814.82 1615.17 L816.65 1617.12 L818.49 1619.08 L820.33 1621.04 L822.16 1623.01 L824 1624.99 L825.83 1626.98 L827.67 1628.97 L829.5 1630.97 L831.34 1632.98 L833.17 1634.99 L835.01 1637.01 L836.85 1639.04 L838.68 1641.07 L840.52 1643.12 L842.35 1645.16 L844.19 1647.22 L846.02 1649.28 L847.86 1651.35 L849.69 1653.43 L851.53 1655.51 L853.37 1657.61 L855.2 1659.7 L857.04 1661.81 L858.87 1663.92 L860.71 1666.04 L862.54 1668.17 L864.38 1670.31 L866.22 1672.45 L868.05 1674.6 L869.89 1676.75 L871.72 1678.92 L873.56 1681.09 L875.39 1683.27 L877.23 1685.45 L879.06 1687.65 L880.9 1689.85" fill="none" stroke="#850000" stroke-width="4.2" stroke-linecap="butt" stroke-linejoin="round"/>
<line x1="147.2" y1="1197.7" x2="883.2" y2="1197.7" stroke="#000" stroke-width="2.6"/>
<line x1="221.76" y1="1197.7" x2="221.76" y2="1203.7" stroke="#000" stroke-width="2.6"/>
<line x1="295.12" y1="1197.7" x2="295.12" y2="1210.2" stroke="#000" stroke-width="2.6"/>
<line x1="368.48" y1="1197.7" x2="368.48" y2="1203.7" stroke="#000" stroke-width="2.6"/>
<line x1="441.84" y1="1197.7" x2="441.84" y2="1210.2" stroke="#000" stroke-width="2.6"/>
<line x1="515.2" y1="1197.7" x2="515.2" y2="1203.7" stroke="#000" stroke-width="2.6"/>
<line x1="588.56" y1="1197.7" x2="588.56" y2="1210.2" stroke="#000" stroke-width="2.6"/>
<line x1="661.92" y1="1197.7" x2="661.92" y2="1203.7" stroke="#000" stroke-width="2.6"/>
<line x1="735.28" y1="1197.7" x2="735.28" y2="1210.2" stroke="#000" stroke-width="2.6"/>
<line x1="808.64" y1="1197.7" x2="808.64" y2="1203.7" stroke="#000" stroke-width="2.6"/>
<line x1="148.4" y1="1196.5" x2="148.4" y2="1698.9" stroke="#000" stroke-width="2.6"/>
<line x1="134.2" y1="1697.7" x2="148.4" y2="1697.7" stroke="#000" stroke-width="2.6"/>
<line x1="141.2" y1="1661.99" x2="148.4" y2="1661.99" stroke="#000" stroke-width="2.6"/>
<line x1="134.2" y1="1626.27" x2="148.4" y2="1626.27" stroke="#000" stroke-width="2.6"/>
<line x1="141.2" y1="1590.56" x2="148.4" y2="1590.56" stroke="#000" stroke-width="2.6"/>
<line x1="134.2" y1="1554.84" x2="148.4" y2="1554.84" stroke="#000" stroke-width="2.6"/>
<line x1="141.2" y1="1519.13" x2="148.4" y2="1519.13" stroke="#000" stroke-width="2.6"/>
<line x1="134.2" y1="1483.41" x2="148.4" y2="1483.41" stroke="#000" stroke-width="2.6"/>
<line x1="141.2" y1="1447.7" x2="148.4" y2="1447.7" stroke="#000" stroke-width="2.6"/>
<line x1="134.2" y1="1411.99" x2="148.4" y2="1411.99" stroke="#000" stroke-width="2.6"/>
<line x1="141.2" y1="1376.27" x2="148.4" y2="1376.27" stroke="#000" stroke-width="2.6"/>
<line x1="134.2" y1="1340.56" x2="148.4" y2="1340.56" stroke="#000" stroke-width="2.6"/>
<line x1="141.2" y1="1304.84" x2="148.4" y2="1304.84" stroke="#000" stroke-width="2.6"/>
<line x1="134.2" y1="1269.13" x2="148.4" y2="1269.13" stroke="#000" stroke-width="2.6"/>
<line x1="141.2" y1="1233.41" x2="148.4" y2="1233.41" stroke="#000" stroke-width="2.6"/>
<line x1="134.2" y1="1197.7" x2="148.4" y2="1197.7" stroke="#000" stroke-width="2.6"/>
<text class="n" x="124.2" y="1708.3" font-size="36" text-anchor="end" fill="#000" letter-spacing="2.2">38</text>
<text class="n" x="124.2" y="1636.87" font-size="36" text-anchor="end" fill="#000" letter-spacing="2.2">40</text>
<text class="n" x="124.2" y="1565.44" font-size="36" text-anchor="end" fill="#000" letter-spacing="2.2">42</text>
<text class="n" x="124.2" y="1494.01" font-size="36" text-anchor="end" fill="#000" letter-spacing="2.2">44</text>
<text class="n" x="124.2" y="1422.59" font-size="36" text-anchor="end" fill="#000" letter-spacing="2.2">46</text>
<text class="n" x="124.2" y="1351.16" font-size="36" text-anchor="end" fill="#000" letter-spacing="2.2">48</text>
<text class="n" x="124.2" y="1279.73" font-size="36" text-anchor="end" fill="#000" letter-spacing="2.2">50</text>
<text class="n" x="124.2" y="1208.3" font-size="36" text-anchor="end" fill="#000" letter-spacing="2.2">52</text>
<line x1="882" y1="1196.5" x2="882" y2="1698.9" stroke="#000" stroke-width="2.6"/>
<line x1="882" y1="1697.7" x2="896.8" y2="1697.7" stroke="#000" stroke-width="2.6"/>
<line x1="882" y1="1656.03" x2="890" y2="1656.03" stroke="#000" stroke-width="2.6"/>
<line x1="882" y1="1614.37" x2="896.8" y2="1614.37" stroke="#000" stroke-width="2.6"/>
<line x1="882" y1="1572.7" x2="890" y2="1572.7" stroke="#000" stroke-width="2.6"/>
<line x1="882" y1="1531.03" x2="896.8" y2="1531.03" stroke="#000" stroke-width="2.6"/>
<line x1="882" y1="1489.37" x2="890" y2="1489.37" stroke="#000" stroke-width="2.6"/>
<line x1="882" y1="1447.7" x2="896.8" y2="1447.7" stroke="#000" stroke-width="2.6"/>
<line x1="882" y1="1406.03" x2="890" y2="1406.03" stroke="#000" stroke-width="2.6"/>
<line x1="882" y1="1364.37" x2="896.8" y2="1364.37" stroke="#000" stroke-width="2.6"/>
<line x1="882" y1="1322.7" x2="890" y2="1322.7" stroke="#000" stroke-width="2.6"/>
<line x1="882" y1="1281.03" x2="896.8" y2="1281.03" stroke="#000" stroke-width="2.6"/>
<line x1="882" y1="1239.37" x2="890" y2="1239.37" stroke="#000" stroke-width="2.6"/>
<line x1="882" y1="1197.7" x2="896.8" y2="1197.7" stroke="#000" stroke-width="2.6"/>
<text class="n" x="903.5" y="1708.3" font-size="36" fill="#000" letter-spacing="2.2">5.70</text>
<text class="n" x="903.5" y="1624.97" font-size="36" fill="#000" letter-spacing="2.2">5.75</text>
<text class="n" x="903.5" y="1541.63" font-size="36" fill="#000" letter-spacing="2.2">5.80</text>
<text class="n" x="903.5" y="1458.3" font-size="36" fill="#000" letter-spacing="2.2">5.85</text>
<text class="n" x="903.5" y="1374.97" font-size="36" fill="#000" letter-spacing="2.2">5.90</text>
<text class="n" x="903.5" y="1291.63" font-size="36" fill="#000" letter-spacing="2.2">5.95</text>
<text class="n" x="903.5" y="1208.3" font-size="36" fill="#000" letter-spacing="2.2">6.00</text>
<line x1="134.2" y1="1697.7" x2="883.2" y2="1697.7" stroke="#000" stroke-width="2.6"/>
<line x1="148.4" y1="1697.7" x2="148.4" y2="1709.5" stroke="#000" stroke-width="2.6"/>
<line x1="221.76" y1="1697.7" x2="221.76" y2="1703.9" stroke="#000" stroke-width="2.6"/>
<line x1="295.12" y1="1697.7" x2="295.12" y2="1709.5" stroke="#000" stroke-width="2.6"/>
<line x1="368.48" y1="1697.7" x2="368.48" y2="1703.9" stroke="#000" stroke-width="2.6"/>
<line x1="441.84" y1="1697.7" x2="441.84" y2="1709.5" stroke="#000" stroke-width="2.6"/>
<line x1="515.2" y1="1697.7" x2="515.2" y2="1703.9" stroke="#000" stroke-width="2.6"/>
<line x1="588.56" y1="1697.7" x2="588.56" y2="1709.5" stroke="#000" stroke-width="2.6"/>
<line x1="661.92" y1="1697.7" x2="661.92" y2="1703.9" stroke="#000" stroke-width="2.6"/>
<line x1="735.28" y1="1697.7" x2="735.28" y2="1709.5" stroke="#000" stroke-width="2.6"/>
<line x1="808.64" y1="1697.7" x2="808.64" y2="1703.9" stroke="#000" stroke-width="2.6"/>
<line x1="882" y1="1697.7" x2="882" y2="1709.5" stroke="#000" stroke-width="2.6"/>
<text class="n" x="149.5" y="1744.3" font-size="36" text-anchor="middle" fill="#000" letter-spacing="2.2">0</text>
<text class="n" x="293.72" y="1744.3" font-size="36" text-anchor="middle" fill="#000" letter-spacing="2.2">200</text>
<text class="n" x="440.44" y="1744.3" font-size="36" text-anchor="middle" fill="#000" letter-spacing="2.2">400</text>
<text class="n" x="588.16" y="1744.3" font-size="36" text-anchor="middle" fill="#000" letter-spacing="2.2">600</text>
<text class="n" x="734.88" y="1744.3" font-size="36" text-anchor="middle" fill="#000" letter-spacing="2.2">800</text>
<text class="n" x="881.6" y="1744.3" font-size="36" text-anchor="middle" fill="#000" letter-spacing="2.2">1000</text>
<path d="M148.5 1803.09 L150.34 1803.1 L152.17 1803.11 L154.01 1803.13 L155.85 1803.15 L157.69 1803.18 L159.52 1803.22 L161.36 1803.26 L163.2 1803.31 L165.03 1803.36 L166.87 1803.42 L168.71 1803.49 L170.55 1803.56 L172.38 1803.64 L174.22 1803.72 L176.06 1803.81 L177.89 1803.91 L179.73 1804 L181.57 1804.11 L183.4 1804.22 L185.24 1804.33 L187.08 1804.45 L188.92 1804.57 L190.75 1804.7 L192.59 1804.83 L194.43 1804.97 L196.26 1805.11 L198.1 1805.25 L199.94 1805.4 L201.78 1805.55 L203.61 1805.71 L205.45 1805.87 L207.29 1806.04 L209.12 1806.2 L210.96 1806.38 L212.8 1806.55 L214.64 1806.73 L216.47 1806.91 L218.31 1807.1 L220.15 1807.29 L221.98 1807.48 L223.82 1807.68 L225.66 1807.88 L227.49 1808.08 L229.33 1808.29 L231.17 1808.5 L233.01 1808.71 L234.84 1808.92 L236.68 1809.14 L238.52 1809.36 L240.35 1809.58 L242.19 1809.81 L244.03 1810.04 L245.87 1810.27 L247.7 1810.51 L249.54 1810.74 L251.38 1810.98 L253.21 1811.23 L255.05 1811.47 L256.89 1811.72 L258.73 1811.97 L260.56 1812.22 L262.4 1812.48 L264.24 1812.73 L266.07 1812.99 L267.91 1813.26 L269.75 1813.52 L271.59 1813.79 L273.42 1814.06 L275.26 1814.33 L277.1 1814.61 L278.93 1814.88 L280.77 1815.16 L282.61 1815.45 L284.44 1815.73 L286.28 1816.02 L288.12 1816.31 L289.96 1816.6 L291.79 1816.89 L293.63 1817.19 L295.47 1817.49 L297.3 1817.79 L299.14 1818.09 L300.98 1818.4 L302.82 1818.7 L304.65 1819.01 L306.49 1819.33 L308.33 1819.64 L310.16 1819.96 L312 1820.28 L313.84 1820.6 L315.68 1820.93 L317.51 1821.26 L319.35 1821.59 L321.19 1821.92 L323.02 1822.25 L324.86 1822.59 L326.7 1822.93 L328.54 1823.28 L330.37 1823.62 L332.21 1823.97 L334.05 1824.32 L335.88 1824.68 L337.72 1825.03 L339.56 1825.39 L341.39 1825.76 L343.23 1826.12 L345.07 1826.49 L346.91 1826.86 L348.74 1827.24 L350.58 1827.61 L352.42 1827.99 L354.25 1828.38 L356.09 1828.76 L357.93 1829.15 L359.77 1829.54 L361.6 1829.94 L363.44 1830.34 L365.28 1830.74 L367.11 1831.15 L368.95 1831.56 L370.79 1831.97 L372.63 1832.39 L374.46 1832.81 L376.3 1833.23 L378.14 1833.66 L379.97 1834.09 L381.81 1834.52 L383.65 1834.96 L385.48 1835.4 L387.32 1835.84 L389.16 1836.29 L391 1836.75 L392.83 1837.2 L394.67 1837.67 L396.51 1838.13 L398.34 1838.6 L400.18 1839.07 L402.02 1839.55 L403.86 1840.03 L405.69 1840.52 L407.53 1841.01 L409.37 1841.5 L411.2 1842 L413.04 1842.51 L414.88 1843.02 L416.72 1843.53 L418.55 1844.05 L420.39 1844.57 L422.23 1845.1 L424.06 1845.63 L425.9 1846.16 L427.74 1846.71 L429.58 1847.25 L431.41 1847.81 L433.25 1848.36 L435.09 1848.92 L436.92 1849.49 L438.76 1850.06 L440.6 1850.64 L442.43 1851.23 L444.27 1851.81 L446.11 1852.41 L447.95 1853.01 L449.78 1853.61 L451.62 1854.22 L453.46 1854.84 L455.29 1855.46 L457.13 1856.09 L458.97 1856.73 L460.81 1857.37 L462.64 1858.01 L464.48 1858.66 L466.32 1859.32 L468.15 1859.98 L469.99 1860.66 L471.83 1861.33 L473.67 1862.01 L475.5 1862.7 L477.34 1863.4 L479.18 1864.1 L481.01 1864.81 L482.85 1865.52 L484.69 1866.25 L486.53 1866.97 L488.36 1867.71 L490.2 1868.45 L492.04 1869.2 L493.87 1869.95 L495.71 1870.72 L497.55 1871.49 L499.38 1872.26 L501.22 1873.05 L503.06 1873.84 L504.9 1874.63 L506.73 1875.44 L508.57 1876.25 L510.41 1877.07 L512.24 1877.9 L514.08 1878.73 L515.92 1879.57 L517.76 1880.42 L519.59 1881.28 L521.43 1882.14 L523.27 1883.01 L525.1 1883.89 L526.94 1884.78 L528.78 1885.67 L530.62 1886.57 L532.45 1887.48 L534.29 1888.4 L536.13 1889.33 L537.96 1890.26 L539.8 1891.2 L541.64 1892.15 L543.47 1893.11 L545.31 1894.07 L547.15 1895.05 L548.99 1896.03 L550.82 1897.02 L552.66 1898.02 L554.5 1899.02 L556.33 1900.04 L558.17 1901.06 L560.01 1902.09 L561.85 1903.13 L563.68 1904.18 L565.52 1905.23 L567.36 1906.3 L569.19 1907.37 L571.03 1908.45 L572.87 1909.54 L574.71 1910.64 L576.54 1911.74 L578.38 1912.86 L580.22 1913.98 L582.05 1915.11 L583.89 1916.25 L585.73 1917.4 L587.57 1918.56 L589.4 1919.73 L591.24 1920.9 L593.08 1922.08 L594.91 1923.28 L596.75 1924.48 L598.59 1925.68 L600.42 1926.9 L602.26 1928.13 L604.1 1929.36 L605.94 1930.61 L607.77 1931.86 L609.61 1933.12 L611.45 1934.39 L613.28 1935.67 L615.12 1936.95 L616.96 1938.25 L618.8 1939.55 L620.63 1940.86 L622.47 1942.19 L624.31 1943.51 L626.14 1944.85 L627.98 1946.2 L629.82 1947.55 L631.66 1948.92 L633.49 1950.29 L635.33 1951.67 L637.17 1953.06 L639 1954.45 L640.84 1955.86 L642.68 1957.27 L644.52 1958.7 L646.35 1960.13 L648.19 1961.56 L650.03 1963.01 L651.86 1964.47 L653.7 1965.93 L655.54 1967.4 L657.37 1968.88 L659.21 1970.37 L661.05 1971.86 L662.89 1973.36 L664.72 1974.87 L666.56 1976.39 L668.4 1977.92 L670.23 1979.45 L672.07 1980.99 L673.91 1982.54 L675.75 1984.1 L677.58 1985.66 L679.42 1987.24 L681.26 1988.81 L683.09 1990.4 L684.93 1991.99 L686.77 1993.59 L688.61 1995.2 L690.44 1996.82 L692.28 1998.44 L694.12 2000.07 L695.95 2001.7 L697.79 2003.34 L699.63 2004.99 L701.46 2006.65 L703.3 2008.31 L705.14 2009.97 L706.98 2011.65 L708.81 2013.33 L710.65 2015.01 L712.49 2016.71 L714.32 2018.4 L716.16 2020.11 L718 2021.82 L719.84 2023.53 L721.67 2025.25 L723.51 2026.98 L725.35 2028.71 L727.18 2030.44 L729.02 2032.18 L730.86 2033.93 L732.7 2035.68 L734.53 2037.43 L736.37 2039.19 L738.21 2040.95 L740.04 2042.72 L741.88 2044.49 L743.72 2046.27 L745.56 2048.05 L747.39 2049.83 L749.23 2051.62 L751.07 2053.41 L752.9 2055.2 L754.74 2057 L756.58 2058.79 L758.41 2060.6 L760.25 2062.4 L762.09 2064.21 L763.93 2066.02 L765.76 2067.83 L767.6 2069.64 L769.44 2071.45 L771.27 2073.27 L773.11 2075.09 L774.95 2076.91 L776.79 2078.73 L778.62 2080.55 L780.46 2082.37 L782.3 2084.19 L784.13 2086.01 L785.97 2087.84 L787.81 2089.66 L789.65 2091.48 L791.48 2093.3 L793.32 2095.12 L795.16 2096.94 L796.99 2098.76 L798.83 2100.58 L800.67 2102.39 L802.51 2104.21 L804.34 2106.02 L806.18 2107.83 L808.02 2109.63 L809.85 2111.44 L811.69 2113.24 L813.53 2115.04 L815.36 2116.83 L817.2 2118.62 L819.04 2120.41 L820.88 2122.19 L822.71 2123.97 L824.55 2125.75 L826.39 2127.52 L828.22 2129.28 L830.06 2131.04 L831.9 2132.79 L833.74 2134.54 L835.57 2136.28 L837.41 2138.01 L839.25 2139.74 L841.08 2141.46 L842.92 2143.17 L844.76 2144.87 L846.6 2146.57 L848.43 2148.26 L850.27 2149.94 L852.11 2151.61 L853.94 2153.27 L855.78 2154.93 L857.62 2156.57 L859.45 2158.2 L861.29 2159.82 L863.13 2161.43 L864.97 2163.03 L866.8 2164.62 L868.64 2166.2 L870.48 2167.77 L872.31 2169.32 L874.15 2170.86 L875.99 2172.38 L877.83 2173.9 L879.66 2175.4 L881.5 2176.88" fill="none" stroke="#f28512" stroke-width="4.2" stroke-linecap="round" stroke-linejoin="round" stroke-dasharray="18.5 24.8"/>
<path d="M148.5 1854.08 L150.33 1854.08 L152.16 1854.09 L153.99 1854.1 L155.82 1854.12 L157.65 1854.15 L159.48 1854.18 L161.31 1854.21 L163.14 1854.25 L164.97 1854.3 L166.8 1854.35 L168.63 1854.41 L170.45 1854.48 L172.28 1854.54 L174.11 1854.62 L175.94 1854.7 L177.77 1854.79 L179.6 1854.88 L181.43 1854.97 L183.26 1855.08 L185.09 1855.18 L186.92 1855.3 L188.75 1855.42 L190.58 1855.54 L192.41 1855.67 L194.24 1855.81 L196.07 1855.95 L197.9 1856.09 L199.73 1856.24 L201.56 1856.4 L203.39 1856.57 L205.22 1856.73 L207.05 1856.91 L208.88 1857.09 L210.71 1857.27 L212.54 1857.46 L214.36 1857.66 L216.19 1857.86 L218.02 1858.07 L219.85 1858.28 L221.68 1858.5 L223.51 1858.72 L225.34 1858.95 L227.17 1859.19 L229 1859.43 L230.83 1859.67 L232.66 1859.93 L234.49 1860.18 L236.32 1860.45 L238.15 1860.71 L239.98 1860.99 L241.81 1861.27 L243.64 1861.55 L245.47 1861.84 L247.3 1862.14 L249.13 1862.44 L250.96 1862.74 L252.79 1863.06 L254.62 1863.37 L256.44 1863.7 L258.27 1864.03 L260.1 1864.36 L261.93 1864.7 L263.76 1865.04 L265.59 1865.39 L267.42 1865.75 L269.25 1866.11 L271.08 1866.48 L272.91 1866.85 L274.74 1867.23 L276.57 1867.61 L278.4 1868 L280.23 1868.4 L282.06 1868.8 L283.89 1869.2 L285.72 1869.62 L287.55 1870.03 L289.38 1870.46 L291.21 1870.88 L293.04 1871.32 L294.87 1871.76 L296.7 1872.2 L298.53 1872.65 L300.35 1873.1 L302.18 1873.57 L304.01 1874.03 L305.84 1874.5 L307.67 1874.98 L309.5 1875.46 L311.33 1875.95 L313.16 1876.45 L314.99 1876.95 L316.82 1877.45 L318.65 1877.96 L320.48 1878.48 L322.31 1879 L324.14 1879.52 L325.97 1880.06 L327.8 1880.6 L329.63 1881.14 L331.46 1881.69 L333.29 1882.24 L335.12 1882.8 L336.95 1883.37 L338.78 1883.94 L340.61 1884.51 L342.43 1885.1 L344.26 1885.68 L346.09 1886.28 L347.92 1886.87 L349.75 1887.48 L351.58 1888.09 L353.41 1888.7 L355.24 1889.32 L357.07 1889.95 L358.9 1890.58 L360.73 1891.22 L362.56 1891.86 L364.39 1892.51 L366.22 1893.16 L368.05 1893.82 L369.88 1894.48 L371.71 1895.15 L373.54 1895.83 L375.37 1896.51 L377.2 1897.19 L379.03 1897.89 L380.86 1898.58 L382.69 1899.28 L384.52 1899.99 L386.34 1900.71 L388.17 1901.43 L390 1902.15 L391.83 1902.88 L393.66 1903.62 L395.49 1904.36 L397.32 1905.1 L399.15 1905.85 L400.98 1906.61 L402.81 1907.37 L404.64 1908.14 L406.47 1908.92 L408.3 1909.7 L410.13 1910.48 L411.96 1911.27 L413.79 1912.07 L415.62 1912.87 L417.45 1913.67 L419.28 1914.49 L421.11 1915.3 L422.94 1916.13 L424.77 1916.96 L426.6 1917.79 L428.42 1918.63 L430.25 1919.47 L432.08 1920.32 L433.91 1921.18 L435.74 1922.04 L437.57 1922.91 L439.4 1923.78 L441.23 1924.66 L443.06 1925.54 L444.89 1926.43 L446.72 1927.32 L448.55 1928.22 L450.38 1929.13 L452.21 1930.04 L454.04 1930.96 L455.87 1931.88 L457.7 1932.8 L459.53 1933.74 L461.36 1934.67 L463.19 1935.62 L465.02 1936.57 L466.85 1937.52 L468.68 1938.48 L470.51 1939.45 L472.33 1940.42 L474.16 1941.39 L475.99 1942.37 L477.82 1943.36 L479.65 1944.35 L481.48 1945.35 L483.31 1946.35 L485.14 1947.36 L486.97 1948.38 L488.8 1949.4 L490.63 1950.42 L492.46 1951.45 L494.29 1952.49 L496.12 1953.53 L497.95 1954.58 L499.78 1955.63 L501.61 1956.69 L503.44 1957.75 L505.27 1958.82 L507.1 1959.89 L508.93 1960.97 L510.76 1962.06 L512.59 1963.15 L514.41 1964.24 L516.24 1965.34 L518.07 1966.45 L519.9 1967.56 L521.73 1968.68 L523.56 1969.8 L525.39 1970.93 L527.22 1972.07 L529.05 1973.21 L530.88 1974.35 L532.71 1975.5 L534.54 1976.66 L536.37 1977.82 L538.2 1978.98 L540.03 1980.16 L541.86 1981.33 L543.69 1982.52 L545.52 1983.7 L547.35 1984.9 L549.18 1986.1 L551.01 1987.3 L552.84 1988.51 L554.67 1989.73 L556.49 1990.95 L558.32 1992.17 L560.15 1993.41 L561.98 1994.64 L563.81 1995.89 L565.64 1997.13 L567.47 1998.39 L569.3 1999.65 L571.13 2000.91 L572.96 2002.18 L574.79 2003.45 L576.62 2004.73 L578.45 2006.02 L580.28 2007.31 L582.11 2008.61 L583.94 2009.91 L585.77 2011.22 L587.6 2012.53 L589.43 2013.85 L591.26 2015.17 L593.09 2016.5 L594.92 2017.84 L596.75 2019.18 L598.58 2020.52 L600.4 2021.87 L602.23 2023.23 L604.06 2024.59 L605.89 2025.96 L607.72 2027.33 L609.55 2028.71 L611.38 2030.09 L613.21 2031.48 L615.04 2032.87 L616.87 2034.27 L618.7 2035.68 L620.53 2037.09 L622.36 2038.5 L624.19 2039.93 L626.02 2041.35 L627.85 2042.78 L629.68 2044.22 L631.51 2045.66 L633.34 2047.11 L635.17 2048.57 L637 2050.02 L638.83 2051.49 L640.66 2052.96 L642.48 2054.43 L644.31 2055.91 L646.14 2057.4 L647.97 2058.89 L649.8 2060.39 L651.63 2061.89 L653.46 2063.4 L655.29 2064.91 L657.12 2066.43 L658.95 2067.95 L660.78 2069.48 L662.61 2071.01 L664.44 2072.55 L666.27 2074.1 L668.1 2075.65 L669.93 2077.2 L671.76 2078.77 L673.59 2080.33 L675.42 2081.9 L677.25 2083.48 L679.08 2085.06 L680.91 2086.65 L682.74 2088.25 L684.57 2089.84 L686.39 2091.45 L688.22 2093.06 L690.05 2094.67 L691.88 2096.29 L693.71 2097.92 L695.54 2099.55 L697.37 2101.19 L699.2 2102.83 L701.03 2104.47 L702.86 2106.13 L704.69 2107.78 L706.52 2109.45 L708.35 2111.12 L710.18 2112.79 L712.01 2114.47 L713.84 2116.15 L715.67 2117.84 L717.5 2119.54 L719.33 2121.24 L721.16 2122.95 L722.99 2124.66 L724.82 2126.37 L726.65 2128.1 L728.47 2129.82 L730.3 2131.56 L732.13 2133.29 L733.96 2135.04 L735.79 2136.79 L737.62 2138.54 L739.45 2140.3 L741.28 2142.07 L743.11 2143.84 L744.94 2145.61 L746.77 2147.39 L748.6 2149.18 L750.43 2150.97 L752.26 2152.77 L754.09 2154.57 L755.92 2156.38 L757.75 2158.19 L759.58 2160.01 L761.41 2161.83 L763.24 2163.66 L765.07 2165.5 L766.9 2167.34 L768.73 2169.18 L770.56 2171.03 L772.38 2172.89 L774.21 2174.75 L776.04 2176.61 L777.87 2178.48 L779.7 2180.36 L781.53 2182.24 L783.36 2184.13 L785.19 2186.02 L787.02 2187.92 L788.85 2189.83 L790.68 2191.74 L792.51 2193.65 L794.34 2195.57 L796.17 2197.49 L798 2199.42 L799.83 2201.36 L801.66 2203.3 L803.49 2205.25 L805.32 2207.2 L807.15 2209.15 L808.98 2211.12 L810.81 2213.08 L812.64 2215.06 L814.46 2217.03 L816.29 2219.02 L818.12 2221.01 L819.95 2223 L821.78 2225 L823.61 2227 L825.44 2229.01 L827.27 2231.03 L829.1 2233.05 L830.93 2235.07 L832.76 2237.11 L834.59 2239.14 L836.42 2241.18 L838.25 2243.23 L840.08 2245.28 L841.91 2247.34 L843.74 2249.4 L845.57 2251.47 L847.4 2253.54 L849.23 2255.62 L851.06 2257.71 L852.89 2259.8 L854.72 2261.89 L856.55 2263.99 L858.37 2266.1 L860.2 2268.21 L862.03 2270.32 L863.86 2272.44 L865.69 2274.57 L867.52 2276.7 L869.35 2278.84 L871.18 2280.98 L873.01 2283.13 L874.84 2285.28 L876.67 2287.44 L878.5 2289.6" fill="none" stroke="#850000" stroke-width="4.2" stroke-linecap="round" stroke-linejoin="round" stroke-dasharray="20.9 15.4 2.9 15.4"/>
<path d="M148.5 1843 L150.34 1843 L152.17 1843.01 L154.01 1843.02 L155.84 1843.04 L157.68 1843.07 L159.52 1843.1 L161.35 1843.14 L163.19 1843.18 L165.02 1843.23 L166.86 1843.29 L168.69 1843.35 L170.53 1843.42 L172.37 1843.49 L174.2 1843.57 L176.04 1843.65 L177.87 1843.74 L179.71 1843.84 L181.55 1843.94 L183.38 1844.05 L185.22 1844.16 L187.05 1844.28 L188.89 1844.4 L190.72 1844.54 L192.56 1844.67 L194.4 1844.81 L196.23 1844.96 L198.07 1845.11 L199.9 1845.27 L201.74 1845.44 L203.58 1845.61 L205.41 1845.78 L207.25 1845.97 L209.08 1846.15 L210.92 1846.35 L212.75 1846.55 L214.59 1846.75 L216.43 1846.96 L218.26 1847.18 L220.1 1847.4 L221.93 1847.63 L223.77 1847.86 L225.61 1848.1 L227.44 1848.34 L229.28 1848.59 L231.11 1848.85 L232.95 1849.11 L234.78 1849.38 L236.62 1849.65 L238.46 1849.93 L240.29 1850.21 L242.13 1850.5 L243.96 1850.79 L245.8 1851.09 L247.64 1851.4 L249.47 1851.71 L251.31 1852.03 L253.14 1852.35 L254.98 1852.68 L256.81 1853.01 L258.65 1853.35 L260.49 1853.7 L262.32 1854.05 L264.16 1854.41 L265.99 1854.77 L267.83 1855.13 L269.67 1855.51 L271.5 1855.89 L273.34 1856.27 L275.17 1856.66 L277.01 1857.06 L278.84 1857.46 L280.68 1857.86 L282.52 1858.27 L284.35 1858.69 L286.19 1859.11 L288.02 1859.54 L289.86 1859.98 L291.7 1860.41 L293.53 1860.86 L295.37 1861.31 L297.2 1861.77 L299.04 1862.23 L300.87 1862.69 L302.71 1863.17 L304.55 1863.64 L306.38 1864.13 L308.22 1864.62 L310.05 1865.11 L311.89 1865.61 L313.73 1866.11 L315.56 1866.63 L317.4 1867.14 L319.23 1867.66 L321.07 1868.19 L322.9 1868.72 L324.74 1869.26 L326.58 1869.8 L328.41 1870.35 L330.25 1870.91 L332.08 1871.47 L333.92 1872.03 L335.76 1872.6 L337.59 1873.18 L339.43 1873.76 L341.26 1874.35 L343.1 1874.94 L344.93 1875.54 L346.77 1876.14 L348.61 1876.75 L350.44 1877.36 L352.28 1877.98 L354.11 1878.61 L355.95 1879.24 L357.79 1879.87 L359.62 1880.51 L361.46 1881.16 L363.29 1881.81 L365.13 1882.47 L366.96 1883.13 L368.8 1883.8 L370.64 1884.47 L372.47 1885.15 L374.31 1885.84 L376.14 1886.53 L377.98 1887.22 L379.82 1887.92 L381.65 1888.63 L383.49 1889.34 L385.32 1890.06 L387.16 1890.78 L388.99 1891.51 L390.83 1892.24 L392.67 1892.98 L394.5 1893.72 L396.34 1894.47 L398.17 1895.22 L400.01 1895.98 L401.85 1896.75 L403.68 1897.52 L405.52 1898.29 L407.35 1899.08 L409.19 1899.86 L411.03 1900.65 L412.86 1901.45 L414.7 1902.25 L416.53 1903.06 L418.37 1903.88 L420.2 1904.69 L422.04 1905.52 L423.88 1906.35 L425.71 1907.18 L427.55 1908.02 L429.38 1908.87 L431.22 1909.72 L433.06 1910.58 L434.89 1911.44 L436.73 1912.3 L438.56 1913.18 L440.4 1914.05 L442.23 1914.94 L444.07 1915.82 L445.91 1916.72 L447.74 1917.62 L449.58 1918.52 L451.41 1919.43 L453.25 1920.35 L455.09 1921.27 L456.92 1922.19 L458.76 1923.12 L460.59 1924.06 L462.43 1925 L464.26 1925.95 L466.1 1926.9 L467.94 1927.86 L469.77 1928.82 L471.61 1929.79 L473.44 1930.76 L475.28 1931.74 L477.12 1932.73 L478.95 1933.72 L480.79 1934.71 L482.62 1935.71 L484.46 1936.72 L486.29 1937.73 L488.13 1938.75 L489.97 1939.77 L491.8 1940.8 L493.64 1941.83 L495.47 1942.87 L497.31 1943.91 L499.15 1944.96 L500.98 1946.01 L502.82 1947.07 L504.65 1948.14 L506.49 1949.21 L508.32 1950.28 L510.16 1951.36 L512 1952.45 L513.83 1953.54 L515.67 1954.64 L517.5 1955.74 L519.34 1956.85 L521.18 1957.96 L523.01 1959.08 L524.85 1960.2 L526.68 1961.33 L528.52 1962.47 L530.35 1963.61 L532.19 1964.75 L534.03 1965.9 L535.86 1967.06 L537.7 1968.22 L539.53 1969.38 L541.37 1970.56 L543.21 1971.73 L545.04 1972.92 L546.88 1974.1 L548.71 1975.3 L550.55 1976.5 L552.38 1977.7 L554.22 1978.91 L556.06 1980.12 L557.89 1981.34 L559.73 1982.57 L561.56 1983.8 L563.4 1985.04 L565.24 1986.28 L567.07 1987.53 L568.91 1988.78 L570.74 1990.04 L572.58 1991.3 L574.41 1992.57 L576.25 1993.84 L578.09 1995.12 L579.92 1996.41 L581.76 1997.7 L583.59 1998.99 L585.43 2000.29 L587.27 2001.6 L589.1 2002.91 L590.94 2004.23 L592.77 2005.55 L594.61 2006.88 L596.44 2008.21 L598.28 2009.55 L600.12 2010.9 L601.95 2012.24 L603.79 2013.6 L605.62 2014.96 L607.46 2016.33 L609.3 2017.7 L611.13 2019.07 L612.97 2020.46 L614.8 2021.84 L616.64 2023.24 L618.47 2024.64 L620.31 2026.04 L622.15 2027.45 L623.98 2028.86 L625.82 2030.29 L627.65 2031.71 L629.49 2033.14 L631.33 2034.58 L633.16 2036.02 L635 2037.47 L636.83 2038.92 L638.67 2040.38 L640.51 2041.84 L642.34 2043.31 L644.18 2044.79 L646.01 2046.27 L647.85 2047.76 L649.68 2049.25 L651.52 2050.74 L653.36 2052.25 L655.19 2053.75 L657.03 2055.27 L658.86 2056.79 L660.7 2058.31 L662.54 2059.84 L664.37 2061.38 L666.21 2062.92 L668.04 2064.47 L669.88 2066.02 L671.71 2067.57 L673.55 2069.14 L675.39 2070.71 L677.22 2072.28 L679.06 2073.86 L680.89 2075.45 L682.73 2077.04 L684.57 2078.63 L686.4 2080.24 L688.24 2081.84 L690.07 2083.46 L691.91 2085.07 L693.74 2086.7 L695.58 2088.33 L697.42 2089.96 L699.25 2091.61 L701.09 2093.25 L702.92 2094.9 L704.76 2096.56 L706.6 2098.23 L708.43 2099.89 L710.27 2101.57 L712.1 2103.25 L713.94 2104.93 L715.77 2106.63 L717.61 2108.32 L719.45 2110.03 L721.28 2111.73 L723.12 2113.45 L724.95 2115.17 L726.79 2116.89 L728.63 2118.62 L730.46 2120.36 L732.3 2122.1 L734.13 2123.85 L735.97 2125.6 L737.8 2127.36 L739.64 2129.13 L741.48 2130.9 L743.31 2132.68 L745.15 2134.46 L746.98 2136.25 L748.82 2138.04 L750.66 2139.84 L752.49 2141.64 L754.33 2143.45 L756.16 2145.27 L758 2147.09 L759.83 2148.92 L761.67 2150.75 L763.51 2152.59 L765.34 2154.44 L767.18 2156.29 L769.01 2158.14 L770.85 2160.01 L772.69 2161.87 L774.52 2163.75 L776.36 2165.63 L778.19 2167.51 L780.03 2169.4 L781.86 2171.3 L783.7 2173.2 L785.54 2175.11 L787.37 2177.03 L789.21 2178.95 L791.04 2180.87 L792.88 2182.8 L794.72 2184.74 L796.55 2186.69 L798.39 2188.63 L800.22 2190.59 L802.06 2192.55 L803.89 2194.52 L805.73 2196.49 L807.57 2198.47 L809.4 2200.45 L811.24 2202.44 L813.07 2204.44 L814.91 2206.44 L816.75 2208.45 L818.58 2210.46 L820.42 2212.48 L822.25 2214.51 L824.09 2216.54 L825.92 2218.58 L827.76 2220.62 L829.6 2222.67 L831.43 2224.73 L833.27 2226.79 L835.1 2228.86 L836.94 2230.93 L838.78 2233.01 L840.61 2235.1 L842.45 2237.19 L844.28 2239.29 L846.12 2241.39 L847.95 2243.5 L849.79 2245.61 L851.63 2247.74 L853.46 2249.86 L855.3 2252 L857.13 2254.14 L858.97 2256.28 L860.81 2258.43 L862.64 2260.59 L864.48 2262.76 L866.31 2264.93 L868.15 2267.1 L869.98 2269.28 L871.82 2271.47 L873.66 2273.67 L875.49 2275.87 L877.33 2278.07 L879.16 2280.29 L881 2282.5" fill="none" stroke="#0a820a" stroke-width="4.2" stroke-linecap="butt" stroke-linejoin="round"/>
<line x1="147.2" y1="1788.3" x2="883.2" y2="1788.3" stroke="#000" stroke-width="2.6"/>
<line x1="221.76" y1="1788.3" x2="221.76" y2="1794.3" stroke="#000" stroke-width="2.6"/>
<line x1="295.12" y1="1788.3" x2="295.12" y2="1800.8" stroke="#000" stroke-width="2.6"/>
<line x1="368.48" y1="1788.3" x2="368.48" y2="1794.3" stroke="#000" stroke-width="2.6"/>
<line x1="441.84" y1="1788.3" x2="441.84" y2="1800.8" stroke="#000" stroke-width="2.6"/>
<line x1="515.2" y1="1788.3" x2="515.2" y2="1794.3" stroke="#000" stroke-width="2.6"/>
<line x1="588.56" y1="1788.3" x2="588.56" y2="1800.8" stroke="#000" stroke-width="2.6"/>
<line x1="661.92" y1="1788.3" x2="661.92" y2="1794.3" stroke="#000" stroke-width="2.6"/>
<line x1="735.28" y1="1788.3" x2="735.28" y2="1800.8" stroke="#000" stroke-width="2.6"/>
<line x1="808.64" y1="1788.3" x2="808.64" y2="1794.3" stroke="#000" stroke-width="2.6"/>
<line x1="148.4" y1="1787.1" x2="148.4" y2="2289.5" stroke="#000" stroke-width="2.6"/>
<line x1="134.2" y1="2288.3" x2="148.4" y2="2288.3" stroke="#000" stroke-width="2.6"/>
<line x1="141.2" y1="2246.63" x2="148.4" y2="2246.63" stroke="#000" stroke-width="2.6"/>
<line x1="134.2" y1="2204.97" x2="148.4" y2="2204.97" stroke="#000" stroke-width="2.6"/>
<line x1="141.2" y1="2163.3" x2="148.4" y2="2163.3" stroke="#000" stroke-width="2.6"/>
<line x1="134.2" y1="2121.63" x2="148.4" y2="2121.63" stroke="#000" stroke-width="2.6"/>
<line x1="141.2" y1="2079.97" x2="148.4" y2="2079.97" stroke="#000" stroke-width="2.6"/>
<line x1="134.2" y1="2038.3" x2="148.4" y2="2038.3" stroke="#000" stroke-width="2.6"/>
<line x1="141.2" y1="1996.63" x2="148.4" y2="1996.63" stroke="#000" stroke-width="2.6"/>
<line x1="134.2" y1="1954.97" x2="148.4" y2="1954.97" stroke="#000" stroke-width="2.6"/>
<line x1="141.2" y1="1913.3" x2="148.4" y2="1913.3" stroke="#000" stroke-width="2.6"/>
<line x1="134.2" y1="1871.63" x2="148.4" y2="1871.63" stroke="#000" stroke-width="2.6"/>
<line x1="141.2" y1="1829.97" x2="148.4" y2="1829.97" stroke="#000" stroke-width="2.6"/>
<line x1="134.2" y1="1788.3" x2="148.4" y2="1788.3" stroke="#000" stroke-width="2.6"/>
<text class="n" x="124.2" y="2298.9" font-size="36" text-anchor="end" fill="#000" letter-spacing="2.2">6.00</text>
<text class="n" x="124.2" y="2215.57" font-size="36" text-anchor="end" fill="#000" letter-spacing="2.2">6.05</text>
<text class="n" x="124.2" y="2132.23" font-size="36" text-anchor="end" fill="#000" letter-spacing="2.2">6.10</text>
<text class="n" x="124.2" y="2048.9" font-size="36" text-anchor="end" fill="#000" letter-spacing="2.2">6.15</text>
<text class="n" x="124.2" y="1965.57" font-size="36" text-anchor="end" fill="#000" letter-spacing="2.2">6.20</text>
<text class="n" x="124.2" y="1882.23" font-size="36" text-anchor="end" fill="#000" letter-spacing="2.2">6.25</text>
<text class="n" x="124.2" y="1798.9" font-size="36" text-anchor="end" fill="#000" letter-spacing="2.2">6.30</text>
<line x1="882" y1="1787.1" x2="882" y2="2289.5" stroke="#000" stroke-width="2.6"/>
<line x1="882" y1="2288.3" x2="896.8" y2="2288.3" stroke="#000" stroke-width="2.6"/>
<line x1="882" y1="2246.63" x2="890" y2="2246.63" stroke="#000" stroke-width="2.6"/>
<line x1="882" y1="2204.97" x2="896.8" y2="2204.97" stroke="#000" stroke-width="2.6"/>
<line x1="882" y1="2163.3" x2="890" y2="2163.3" stroke="#000" stroke-width="2.6"/>
<line x1="882" y1="2121.63" x2="896.8" y2="2121.63" stroke="#000" stroke-width="2.6"/>
<line x1="882" y1="2079.97" x2="890" y2="2079.97" stroke="#000" stroke-width="2.6"/>
<line x1="882" y1="2038.3" x2="896.8" y2="2038.3" stroke="#000" stroke-width="2.6"/>
<line x1="882" y1="1996.63" x2="890" y2="1996.63" stroke="#000" stroke-width="2.6"/>
<line x1="882" y1="1954.97" x2="896.8" y2="1954.97" stroke="#000" stroke-width="2.6"/>
<line x1="882" y1="1913.3" x2="890" y2="1913.3" stroke="#000" stroke-width="2.6"/>
<line x1="882" y1="1871.63" x2="896.8" y2="1871.63" stroke="#000" stroke-width="2.6"/>
<line x1="882" y1="1829.97" x2="890" y2="1829.97" stroke="#000" stroke-width="2.6"/>
<line x1="882" y1="1788.3" x2="896.8" y2="1788.3" stroke="#000" stroke-width="2.6"/>
<text class="n" x="903.5" y="2298.9" font-size="36" fill="#000" letter-spacing="2.2">0.0055</text>
<text class="n" x="903.5" y="2215.57" font-size="36" fill="#000" letter-spacing="2.2">0.0056</text>
<text class="n" x="903.5" y="2132.23" font-size="36" fill="#000" letter-spacing="2.2">0.0057</text>
<text class="n" x="903.5" y="2048.9" font-size="36" fill="#000" letter-spacing="2.2">0.0058</text>
<text class="n" x="903.5" y="1965.57" font-size="36" fill="#000" letter-spacing="2.2">0.0059</text>
<text class="n" x="903.5" y="1882.23" font-size="36" fill="#000" letter-spacing="2.2">0.0060</text>
<text class="n" x="903.5" y="1798.9" font-size="36" fill="#000" letter-spacing="2.2">0.0061</text>
<line x1="134.2" y1="2288.3" x2="883.2" y2="2288.3" stroke="#000" stroke-width="2.6"/>
<line x1="148.4" y1="2288.3" x2="148.4" y2="2300.1" stroke="#000" stroke-width="2.6"/>
<line x1="221.76" y1="2288.3" x2="221.76" y2="2294.5" stroke="#000" stroke-width="2.6"/>
<line x1="295.12" y1="2288.3" x2="295.12" y2="2300.1" stroke="#000" stroke-width="2.6"/>
<line x1="368.48" y1="2288.3" x2="368.48" y2="2294.5" stroke="#000" stroke-width="2.6"/>
<line x1="441.84" y1="2288.3" x2="441.84" y2="2300.1" stroke="#000" stroke-width="2.6"/>
<line x1="515.2" y1="2288.3" x2="515.2" y2="2294.5" stroke="#000" stroke-width="2.6"/>
<line x1="588.56" y1="2288.3" x2="588.56" y2="2300.1" stroke="#000" stroke-width="2.6"/>
<line x1="661.92" y1="2288.3" x2="661.92" y2="2294.5" stroke="#000" stroke-width="2.6"/>
<line x1="735.28" y1="2288.3" x2="735.28" y2="2300.1" stroke="#000" stroke-width="2.6"/>
<line x1="808.64" y1="2288.3" x2="808.64" y2="2294.5" stroke="#000" stroke-width="2.6"/>
<line x1="882" y1="2288.3" x2="882" y2="2300.1" stroke="#000" stroke-width="2.6"/>
<text class="n" x="149.5" y="2334.9" font-size="36" text-anchor="middle" fill="#000" letter-spacing="2.2">0</text>
<text class="n" x="293.72" y="2334.9" font-size="36" text-anchor="middle" fill="#000" letter-spacing="2.2">200</text>
<text class="n" x="440.44" y="2334.9" font-size="36" text-anchor="middle" fill="#000" letter-spacing="2.2">400</text>
<text class="n" x="588.16" y="2334.9" font-size="36" text-anchor="middle" fill="#000" letter-spacing="2.2">600</text>
<text class="n" x="734.88" y="2334.9" font-size="36" text-anchor="middle" fill="#000" letter-spacing="2.2">800</text>
<text class="n" x="881.6" y="2334.9" font-size="36" text-anchor="middle" fill="#000" letter-spacing="2.2">1000</text>
<text x="161.6" y="62" font-size="44.5" font-weight="bold" fill="#000" letter-spacing="5.25">(A)</text>
<text transform="translate(622.7,110.8) scale(0.94,1)" font-size="36" font-weight="bold" letter-spacing="6.8" fill="#404040">ANA</text>
<text transform="translate(729.56,321.6) scale(0.94,1)" font-size="36" font-weight="bold" letter-spacing="6.51" fill="#0a820a">EPS</text>
<text transform="translate(545.56,441.2) scale(0.94,1)" font-size="36" font-weight="bold" letter-spacing="4.05" fill="#858a0a">Inert</text>
<text transform="translate(220.96,470.2) scale(0.94,1)" font-size="36" font-weight="bold" letter-spacing="6.49" fill="#850000">HET</text>
<text x="161.6" y="696" font-size="44.5" font-weight="bold" fill="#000" letter-spacing="5.9">(B)</text>
<text transform="translate(324.56,689.8) scale(0.94,1)" font-size="36" font-weight="bold" letter-spacing="3.86" fill="#858a0a">Inert</text>
<text transform="translate(534,703.2) scale(0.94,1)" font-size="36" font-weight="bold" letter-spacing="5.68" fill="#404040">ANA</text>
<text transform="translate(690.96,1004.5) scale(0.94,1)" font-size="36" font-weight="bold" letter-spacing="6.22" fill="#850000">HET</text>
<text transform="translate(751.36,1087.4) scale(0.94,1)" font-size="36" font-weight="bold" letter-spacing="6.14" fill="#0a820a">EPS</text>
<text x="159" y="1246" font-size="44.5" font-weight="bold" fill="#000" letter-spacing="6.2">(C)</text>
<text transform="translate(501.9,1282.9) scale(0.94,1)" font-size="36" font-weight="bold" letter-spacing="4.58" fill="#00007d">Ammonium</text>
<text transform="translate(645.76,1436.2) scale(0.94,1)" font-size="36" font-weight="bold" letter-spacing="3.95" fill="#850000">Nitrate</text>
<text transform="translate(462.06,1609) scale(0.94,1)" font-size="36" font-weight="bold" letter-spacing="3.74" fill="#f28512">Nitrite</text>
<text x="790.6" y="1839.5" font-size="44.5" font-weight="bold" fill="#000" letter-spacing="5.65">(D)</text>
<text transform="translate(231.66,1927) scale(0.94,1)" font-size="36" font-weight="bold" letter-spacing="6.33" fill="#850000">BAP</text>
<text transform="translate(439.12,1914) scale(0.94,1)" font-size="36" font-weight="bold" letter-spacing="7.06" fill="#0a820a">SMP</text>
<text transform="translate(672.36,1946) scale(0.94,1)" font-size="36" font-weight="bold" letter-spacing="6.55" fill="#f28512">UAP</text>
<text class="n" x="415.3" y="593.4" font-size="34" fill="#000" letter-spacing="3.46">Time (days)</text>
<text class="n" x="323.3" y="1187.4" font-size="34" fill="#000" letter-spacing="3.16">Biofilm thickness (μm)</text>
<text class="n" x="323.3" y="1777.4" font-size="34" fill="#000" letter-spacing="3.16">Biofilm thickness (μm)</text>
<text class="n" x="322.7" y="2382.3" font-size="34" fill="#000" letter-spacing="3.19">Biofilm thickness (μm)</text>
<text class="n" transform="translate(30.5,390) rotate(-90)" font-size="37.2" letter-spacing="-0.36" fill="#000">Biomass fraction</text>
<text class="n" transform="translate(31.2,1047.9) rotate(-90)" font-size="37.2" letter-spacing="-0.284" fill="#000">ANA and EPS fraction</text>
<text class="n" transform="translate(1018,715.3) rotate(90)" font-size="37.2" letter-spacing="-0.324" fill="#000">HET and Inert fraction</text>
<text class="n" transform="translate(35,1711.6) rotate(-90)" font-size="37.2" letter-spacing="-0.404" fill="#000">Ammonium and nitrite (mg N/L)</text>
<text class="n" transform="translate(1022.2,1346.2) rotate(90)" font-size="37.2" letter-spacing="-0.3" fill="#000">Nitrate (mg N/L)</text>
<text class="n" transform="translate(31.2,2267.9) rotate(-90)" font-size="37.2" letter-spacing="-0.333" fill="#000">SMP and BAP (mg COD/L)</text>
<text class="n" transform="translate(1023,1926) rotate(90)" font-size="37.2" letter-spacing="-0.292" fill="#000">UAP (mg COD/L)</text>
<line x1="549.4" y1="673.4" x2="521" y2="637.5" stroke="#000" stroke-width="1.4"/>
<path d="M513.3 628.3 L527.3 638.3 L519.3 642.6 Z" fill="#000"/>
</svg></body></html>
